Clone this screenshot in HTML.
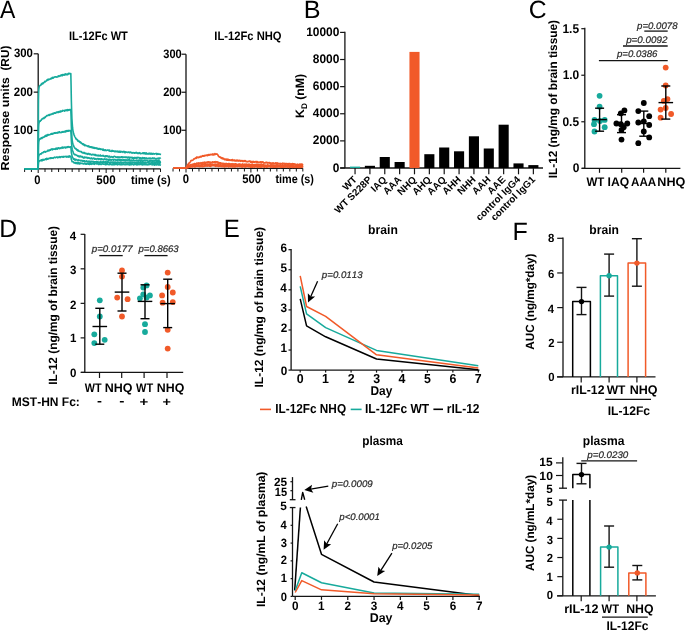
<!DOCTYPE html>
<html><head><meta charset="utf-8"><style>
html,body{margin:0;padding:0;background:#fff;overflow:hidden;}
svg{display:block;will-change:transform;font-family:"Liberation Sans",sans-serif;font-kerning:none;text-rendering:geometricPrecision;}
</style></head><body>
<svg width="685" height="631" viewBox="0 0 685 631">
<rect width="685" height="631" fill="#fff"/>
<text x="0" y="17.8" font-size="25" font-weight="normal" fill="#000" textLength="15.35" lengthAdjust="spacingAndGlyphs">A</text>
<text x="303.68" y="17.8" font-size="25" font-weight="normal" fill="#000" textLength="16.83" lengthAdjust="spacingAndGlyphs">B</text>
<text x="528.76" y="17.8" font-size="25" font-weight="normal" fill="#000" textLength="17.86" lengthAdjust="spacingAndGlyphs">C</text>
<text x="-0.78" y="236.6" font-size="25" font-weight="normal" fill="#000" textLength="17.84" lengthAdjust="spacingAndGlyphs">D</text>
<text x="223.78" y="236.7" font-size="25" font-weight="normal" fill="#000" textLength="16.03" lengthAdjust="spacingAndGlyphs">E</text>
<text x="512.59" y="240" font-size="25" font-weight="normal" fill="#000" textLength="15.33" lengthAdjust="spacingAndGlyphs">F</text>
<line x1="38.2" y1="53.8" x2="38.2" y2="169.4" stroke="#141414" stroke-width="1.3"/>
<line x1="24.61" y1="168.8" x2="160.51" y2="168.8" stroke="#141414" stroke-width="1.3"/>
<line x1="24.61" y1="168.8" x2="24.61" y2="172" stroke="#141414" stroke-width="1"/>
<line x1="31.41" y1="168.8" x2="31.41" y2="172" stroke="#141414" stroke-width="1"/>
<line x1="38.2" y1="168.8" x2="38.2" y2="173" stroke="#141414" stroke-width="1"/>
<line x1="45" y1="168.8" x2="45" y2="172" stroke="#141414" stroke-width="1"/>
<line x1="51.79" y1="168.8" x2="51.79" y2="172" stroke="#141414" stroke-width="1"/>
<line x1="58.59" y1="168.8" x2="58.59" y2="172" stroke="#141414" stroke-width="1"/>
<line x1="65.38" y1="168.8" x2="65.38" y2="172" stroke="#141414" stroke-width="1"/>
<line x1="72.18" y1="168.8" x2="72.18" y2="172" stroke="#141414" stroke-width="1"/>
<line x1="78.97" y1="168.8" x2="78.97" y2="172" stroke="#141414" stroke-width="1"/>
<line x1="85.77" y1="168.8" x2="85.77" y2="172" stroke="#141414" stroke-width="1"/>
<line x1="92.56" y1="168.8" x2="92.56" y2="172" stroke="#141414" stroke-width="1"/>
<line x1="99.35" y1="168.8" x2="99.35" y2="172" stroke="#141414" stroke-width="1"/>
<line x1="106.15" y1="168.8" x2="106.15" y2="173" stroke="#141414" stroke-width="1"/>
<line x1="112.94" y1="168.8" x2="112.94" y2="172" stroke="#141414" stroke-width="1"/>
<line x1="119.74" y1="168.8" x2="119.74" y2="172" stroke="#141414" stroke-width="1"/>
<line x1="126.53" y1="168.8" x2="126.53" y2="172" stroke="#141414" stroke-width="1"/>
<line x1="133.33" y1="168.8" x2="133.33" y2="172" stroke="#141414" stroke-width="1"/>
<line x1="140.12" y1="168.8" x2="140.12" y2="172" stroke="#141414" stroke-width="1"/>
<line x1="146.92" y1="168.8" x2="146.92" y2="172" stroke="#141414" stroke-width="1"/>
<line x1="153.72" y1="168.8" x2="153.72" y2="172" stroke="#141414" stroke-width="1"/>
<line x1="160.51" y1="168.8" x2="160.51" y2="172" stroke="#141414" stroke-width="1"/>
<line x1="33.7" y1="130.47" x2="38.2" y2="130.47" stroke="#141414" stroke-width="1.2"/>
<text x="13.5" y="134.02" font-size="12.32" font-weight="bold" fill="#000" textLength="19.4" lengthAdjust="spacingAndGlyphs">100</text>
<line x1="33.7" y1="92.14" x2="38.2" y2="92.14" stroke="#141414" stroke-width="1.2"/>
<text x="13.8" y="95.69" font-size="12.32" font-weight="bold" fill="#000" textLength="19.1" lengthAdjust="spacingAndGlyphs">200</text>
<line x1="33.7" y1="53.81" x2="38.2" y2="53.81" stroke="#141414" stroke-width="1.2"/>
<text x="13.92" y="57.36" font-size="12.32" font-weight="bold" fill="#000" textLength="18.98" lengthAdjust="spacingAndGlyphs">300</text>
<path d="M24.61 168.7 L24.95 168.7 L25.97 168.7 L26.99 168.7 L28.01 168.7 L29.03 168.7 L30.05 168.7 L31.07 168.7 L32.08 168.7 L33.1 168.7 L34.12 168.7 L35.14 168.7 L36.16 168.7 L37.18 168.7 L38.2 168.7 L38.27 143.18 L38.34 123.93 L38.4 109.04 L38.47 99.78 L38.61 93.18 L38.74 90.12 L39.02 87.67 L39.29 86.57 L39.56 85.78 L39.9 85.73 L40.24 85.23 L40.58 85.27 L40.92 85.02 L41.26 84.04 L41.6 83.67 L41.94 84.36 L42.28 83.38 L42.62 83.07 L42.96 83.71 L43.3 82.82 L43.64 83.01 L43.98 82.33 L44.32 82.28 L44.66 81.45 L45 81.79 L45.33 81.84 L45.67 81.19 L46.01 81.23 L46.35 80.92 L46.69 79.98 L47.03 80.6 L47.37 80.2 L47.71 79.66 L48.05 79.15 L48.39 79.97 L48.73 79.33 L49.07 79.46 L49.41 79.5 L49.75 79.15 L50.09 79.26 L50.43 78.49 L50.77 78.84 L51.11 78.28 L51.45 78.75 L51.79 78.56 L52.13 77.5 L52.47 77.43 L52.81 77.41 L53.15 78.2 L53.49 77.45 L53.83 77.58 L54.17 77.08 L54.51 77.22 L54.85 76.97 L55.19 76.83 L55.53 77.01 L55.87 76.91 L56.21 77.19 L56.55 76.83 L56.89 77.03 L57.23 76.85 L57.57 76.92 L57.91 76.44 L58.25 75.74 L58.59 76.49 L58.92 76.53 L59.26 76.37 L59.6 75.88 L59.94 75.97 L60.28 75.29 L60.62 75.95 L60.96 75.56 L61.3 75.13 L61.64 74.79 L61.98 75.66 L62.32 75.75 L62.66 74.59 L63 75.37 L63.34 74.83 L63.68 74.44 L64.02 74.54 L64.36 75.04 L64.7 75.1 L65.04 74.03 L65.38 74.65 L65.72 73.89 L66.06 74.63 L66.4 74.1 L66.74 74.7 L67.08 74.75 L67.42 74.12 L67.76 74.65 L68.1 73.76 L68.44 73.42 L68.78 73.98 L69.12 73.24 L69.46 73.38 L69.8 73.58 L70.14 73.77 L70.48 73.58 L70.82 73.52 L70.95 79.3 L71.09 85.79 L71.36 100.71 L71.63 110.25 L71.9 118.29 L72.18 122.75 L72.58 127.98 L72.99 130.82 L73.53 132.99 L73.94 134.42 L74.28 135.36 L74.62 136.27 L74.96 136.87 L75.3 137.41 L75.64 138 L75.98 138.86 L76.32 138.78 L76.66 139.11 L77 139.85 L77.34 139.65 L77.68 140.08 L78.02 141.23 L78.36 140.99 L78.7 141.33 L79.04 140.97 L79.38 141.72 L79.72 142.18 L80.06 141.75 L80.4 142.7 L80.74 142.96 L81.08 142.5 L81.42 143.4 L81.76 143.42 L82.1 143.89 L82.44 143.7 L82.78 144.32 L83.11 144.55 L83.45 143.88 L83.79 144.11 L84.13 145.02 L84.47 145.54 L84.81 144.84 L85.15 145.24 L85.49 145.56 L85.83 145.37 L86.17 145.56 L86.51 145.62 L86.85 145.81 L87.19 146.2 L87.53 145.95 L87.87 146.15 L88.21 146.73 L88.55 145.94 L88.89 146.69 L89.23 146.99 L89.57 146.57 L89.91 146.56 L90.25 147.34 L90.59 146.75 L90.93 146.78 L91.27 147.16 L91.61 147.55 L91.95 146.92 L92.29 147.26 L92.63 147.35 L92.97 148.02 L93.31 147.62 L93.65 148.2 L93.99 147.44 L94.33 147.72 L94.67 148.16 L95.01 148.51 L95.35 148.06 L95.69 147.86 L96.03 147.8 L96.37 148.36 L96.7 148.02 L97.04 148.83 L97.38 148.93 L97.72 148.22 L98.06 148.4 L98.4 149.1 L98.74 148.97 L99.08 149.24 L99.42 148.76 L99.76 148.56 L100.1 148.83 L100.44 149.5 L100.78 148.94 L101.12 149.09 L101.46 149.25 L101.8 149.31 L102.14 149.37 L102.48 150.04 L102.82 149.19 L103.16 149.07 L103.5 150.26 L103.84 150.25 L104.18 150.43 L104.52 149.83 L104.86 150.51 L105.2 150.54 L105.54 149.75 L105.88 150.43 L106.22 150.6 L106.56 150.44 L106.9 150.32 L107.24 150.09 L107.58 150.2 L107.92 150.12 L108.26 149.97 L108.6 150.64 L108.94 150.32 L109.28 150.99 L109.62 150.11 L109.96 151.19 L110.29 150.98 L110.63 151.29 L110.97 151.3 L111.31 151.34 L111.65 151 L111.99 150.36 L112.33 151.28 L112.67 150.63 L113.01 150.82 L113.35 151.29 L113.69 151.16 L114.03 151.07 L114.37 151.73 L114.71 151.38 L115.05 151.09 L115.39 151.02 L115.73 151.78 L116.07 151.36 L116.41 151.76 L116.75 151.28 L117.09 151.12 L117.43 151.56 L117.77 151.93 L118.11 151.19 L118.45 151.97 L118.79 152.16 L119.13 152.05 L119.47 152.1 L119.81 151.16 L120.15 151.93 L120.49 152.24 L120.83 151.3 L121.17 151.59 L121.51 151.62 L121.85 151.96 L122.19 151.86 L122.53 151.95 L122.87 152.35 L123.21 151.44 L123.55 151.54 L123.88 151.65 L124.22 151.67 L124.56 151.63 L124.9 152.75 L125.24 152.63 L125.58 151.74 L125.92 152.26 L126.26 152.06 L126.6 152.09 L126.94 152.16 L127.28 152.54 L127.62 152.49 L127.96 152.24 L128.3 152.06 L128.64 152.25 L128.98 152.03 L129.32 152.57 L129.66 152.79 L130 152.4 L130.34 152.07 L130.68 152.21 L131.02 152.46 L131.36 152.76 L131.7 153 L132.04 152.54 L132.38 153.06 L132.72 152.87 L133.06 152.66 L133.4 152.61 L133.74 152.78 L134.08 153.05 L134.42 152.73 L134.76 153.08 L135.1 152.82 L135.44 152.58 L135.78 152.95 L136.12 153.17 L136.46 152.44 L136.8 152.88 L137.14 152.9 L137.47 153.47 L137.81 153.56 L138.15 152.9 L138.49 153.55 L138.83 153.44 L139.17 152.83 L139.51 153.09 L139.85 152.7 L140.19 153.55 L140.53 153.38 L140.87 153.67 L141.21 153.58 L141.55 153.45 L141.89 153.54 L142.23 153.36 L142.57 152.82 L142.91 153.42 L143.25 152.74 L143.59 152.93 L143.93 153.7 L144.27 152.84 L144.61 152.92 L144.95 152.95 L145.29 153.9 L145.63 153.08 L145.97 152.91 L146.31 153.9 L146.65 153.06 L146.99 153.94 L147.33 153.75 L147.67 153.96 L148.01 154.12 L148.35 153.69 L148.69 153.96 L149.03 153.07 L149.37 153.96 L149.71 153.67 L150.05 153.93 L150.39 153.21 L150.73 153.99 L151.06 154.23 L151.4 153.2 L151.74 153.53 L152.08 153.83 L152.42 154.16 L152.76 153.47 L153.1 153.41 L153.44 153.5 L153.78 153.96 L154.12 154.13 L154.46 153.71 L154.8 153.69 L155.14 153.74 L155.48 153.7 L155.82 153.79 L156.16 153.4 L156.5 153.91 L156.84 154.49 L157.18 153.83 L157.52 154.24 L157.86 153.54 L158.2 154.19 L158.54 154.28 L158.88 154.19 L159.22 154.01 L159.56 153.98 L159.9 154.18 L160.24 154.49 L160.51 153.6" fill="none" stroke="#17aa9c" stroke-width="1.6" stroke-linejoin="round"/>
<path d="M24.61 168.7 L24.95 168.7 L25.97 168.7 L26.99 168.7 L28.01 168.7 L29.03 168.7 L30.05 168.7 L31.07 168.7 L32.08 168.7 L33.1 168.7 L34.12 168.7 L35.14 168.7 L36.16 168.7 L37.18 168.7 L38.2 168.7 L38.27 154.14 L38.34 143.32 L38.4 134.96 L38.47 129.76 L38.61 126.09 L38.74 124.33 L39.02 122.7 L39.29 121.9 L39.56 120.98 L39.9 121.38 L40.24 121.3 L40.58 120.58 L40.92 120.22 L41.26 120.25 L41.6 119.32 L41.94 119.14 L42.28 118.79 L42.62 118.99 L42.96 118.4 L43.3 118.06 L43.64 118.37 L43.98 118.45 L44.32 117.43 L44.66 117.7 L45 117.12 L45.33 117.43 L45.67 116.88 L46.01 116.29 L46.35 116.02 L46.69 115.58 L47.03 115.93 L47.37 115.63 L47.71 115.19 L48.05 115.24 L48.39 115.02 L48.73 115.4 L49.07 114.49 L49.41 115.37 L49.75 114.61 L50.09 114.62 L50.43 114.33 L50.77 114.64 L51.11 114.5 L51.45 114.07 L51.79 113.86 L52.13 114.04 L52.47 114.09 L52.81 113.43 L53.15 113.73 L53.49 113.9 L53.83 113.2 L54.17 112.82 L54.51 112.72 L54.85 113.21 L55.19 113.06 L55.53 113.3 L55.87 113.08 L56.21 112.26 L56.55 112.1 L56.89 112.09 L57.23 111.92 L57.57 112.45 L57.91 112.55 L58.25 112.52 L58.59 111.66 L58.92 112.31 L59.26 111.56 L59.6 111.62 L59.94 111.9 L60.28 111.05 L60.62 110.98 L60.96 111.8 L61.3 111.07 L61.64 111.08 L61.98 111.27 L62.32 111.31 L62.66 110.44 L63 110.76 L63.34 110.81 L63.68 110.8 L64.02 110.4 L64.36 110.79 L64.7 111.16 L65.04 110.42 L65.38 110.54 L65.72 109.96 L66.06 110.09 L66.4 110.49 L66.74 109.77 L67.08 110.63 L67.42 110.6 L67.76 109.57 L68.1 110.52 L68.44 109.78 L68.78 110.2 L69.12 110.13 L69.46 109.52 L69.8 109.92 L70.14 109.84 L70.48 109.61 L70.82 109.56 L70.95 113.07 L71.09 117.03 L71.36 126.74 L71.63 132 L71.9 136.88 L72.18 140.25 L72.58 142.62 L72.99 144.23 L73.53 145.43 L73.94 146.69 L74.28 147.05 L74.62 147.95 L74.96 148.31 L75.3 148.53 L75.64 148.38 L75.98 149.23 L76.32 149.48 L76.66 149.2 L77 150.29 L77.34 150.24 L77.68 149.82 L78.02 150.99 L78.36 150.23 L78.7 150.64 L79.04 151.28 L79.38 151.3 L79.72 151.41 L80.06 151.67 L80.4 151.59 L80.74 151.55 L81.08 151.53 L81.42 151.53 L81.76 152.44 L82.1 152.62 L82.44 152.49 L82.78 152.84 L83.11 152.51 L83.45 152.51 L83.79 152.76 L84.13 153.45 L84.47 152.56 L84.81 153.21 L85.15 153 L85.49 153.72 L85.83 153.3 L86.17 153.36 L86.51 153.52 L86.85 153.76 L87.19 154.11 L87.53 153.67 L87.87 154.33 L88.21 153.51 L88.55 153.77 L88.89 153.62 L89.23 153.7 L89.57 154.55 L89.91 154.55 L90.25 153.95 L90.59 154.01 L90.93 154.33 L91.27 154.77 L91.61 154.91 L91.95 154.88 L92.29 154.74 L92.63 154.25 L92.97 154.6 L93.31 154.4 L93.65 154.84 L93.99 154.93 L94.33 154.54 L94.67 154.64 L95.01 155.32 L95.35 154.46 L95.69 155.43 L96.03 155.58 L96.37 155.69 L96.7 155.05 L97.04 155.29 L97.38 155.37 L97.72 155.47 L98.06 155.93 L98.4 155.62 L98.74 155.2 L99.08 155.91 L99.42 155.5 L99.76 155.69 L100.1 155.88 L100.44 155.05 L100.78 156.01 L101.12 155.92 L101.46 155.76 L101.8 155.84 L102.14 155.8 L102.48 155.52 L102.82 155.96 L103.16 155.41 L103.5 156 L103.84 156.22 L104.18 156.01 L104.52 156.19 L104.86 156.7 L105.2 156.65 L105.54 155.78 L105.88 156.6 L106.22 156.43 L106.56 155.78 L106.9 156.18 L107.24 156.06 L107.58 155.9 L107.92 156.49 L108.26 156.98 L108.6 156.28 L108.94 156.96 L109.28 156.78 L109.62 156.13 L109.96 157.03 L110.29 156.74 L110.63 157.16 L110.97 156.93 L111.31 156.98 L111.65 156.53 L111.99 157.11 L112.33 157.28 L112.67 157.22 L113.01 156.74 L113.35 157.14 L113.69 156.84 L114.03 156.41 L114.37 156.36 L114.71 156.42 L115.05 156.59 L115.39 156.56 L115.73 156.99 L116.07 157.25 L116.41 157.08 L116.75 156.96 L117.09 157.25 L117.43 156.86 L117.77 157.07 L118.11 157.44 L118.45 157.04 L118.79 156.79 L119.13 157.67 L119.47 157.48 L119.81 157.07 L120.15 157.1 L120.49 157.31 L120.83 157.4 L121.17 156.98 L121.51 156.73 L121.85 156.99 L122.19 157.7 L122.53 156.95 L122.87 157.35 L123.21 157.05 L123.55 157.08 L123.88 157.05 L124.22 157.35 L124.56 157.08 L124.9 156.93 L125.24 157.05 L125.58 157.13 L125.92 157.53 L126.26 157.03 L126.6 157 L126.94 157.53 L127.28 157.5 L127.62 157.87 L127.96 157.1 L128.3 157.53 L128.64 157.54 L128.98 157.11 L129.32 158.25 L129.66 157.37 L130 157.24 L130.34 157.71 L130.68 157.35 L131.02 157.91 L131.36 157.59 L131.7 157.34 L132.04 157.26 L132.38 158.09 L132.72 157.56 L133.06 158.19 L133.4 157.81 L133.74 158.39 L134.08 157.64 L134.42 157.59 L134.76 157.62 L135.1 158.3 L135.44 158.09 L135.78 157.76 L136.12 157.47 L136.46 158.19 L136.8 158.54 L137.14 158.1 L137.47 157.41 L137.81 157.45 L138.15 157.54 L138.49 157.65 L138.83 157.5 L139.17 157.53 L139.51 158.26 L139.85 158.57 L140.19 157.74 L140.53 158.68 L140.87 158.1 L141.21 158.5 L141.55 158.65 L141.89 158.69 L142.23 157.61 L142.57 157.95 L142.91 158.32 L143.25 158.74 L143.59 157.72 L143.93 157.98 L144.27 158.66 L144.61 157.78 L144.95 158.12 L145.29 158.07 L145.63 158.49 L145.97 158.8 L146.31 157.91 L146.65 158.6 L146.99 158.6 L147.33 158.73 L147.67 158.4 L148.01 158.86 L148.35 158.19 L148.69 158.26 L149.03 158.05 L149.37 158.72 L149.71 158.37 L150.05 158.13 L150.39 158.02 L150.73 158.69 L151.06 158.56 L151.4 158.69 L151.74 158.31 L152.08 158.44 L152.42 158.05 L152.76 158.72 L153.1 157.91 L153.44 158.45 L153.78 158.81 L154.12 158.72 L154.46 158.03 L154.8 158.2 L155.14 158.94 L155.48 158.7 L155.82 158.99 L156.16 158.99 L156.5 158.49 L156.84 159.03 L157.18 158.84 L157.52 158.37 L157.86 158.42 L158.2 158.07 L158.54 158.47 L158.88 159.14 L159.22 158.12 L159.56 158.69 L159.9 158.14 L160.24 158.11 L160.51 158.8" fill="none" stroke="#17aa9c" stroke-width="1.6" stroke-linejoin="round"/>
<path d="M24.61 168.7 L24.95 168.7 L25.97 168.7 L26.99 168.7 L28.01 168.7 L29.03 168.7 L30.05 168.7 L31.07 168.7 L32.08 168.7 L33.1 168.7 L34.12 168.7 L35.14 168.7 L36.16 168.7 L37.18 168.7 L38.2 168.7 L38.27 159.62 L38.34 153.02 L38.4 147.91 L38.47 144.74 L38.61 142.52 L38.74 141.43 L39.02 140.36 L39.29 139.81 L39.56 139.18 L39.9 138.67 L40.24 138.58 L40.58 138.98 L40.92 138.71 L41.26 137.8 L41.6 137.85 L41.94 138.53 L42.28 137.43 L42.62 137.64 L42.96 137.28 L43.3 137.53 L43.64 137.14 L43.98 137.19 L44.32 136.71 L44.66 136.13 L45 135.95 L45.33 135.66 L45.67 136.4 L46.01 135.38 L46.35 135.12 L46.69 136.1 L47.03 135.03 L47.37 135.72 L47.71 134.62 L48.05 134.94 L48.39 134.52 L48.73 135.13 L49.07 134.76 L49.41 134.68 L49.75 134.72 L50.09 134.76 L50.43 134.03 L50.77 134.24 L51.11 133.96 L51.45 133.47 L51.79 134.25 L52.13 133.88 L52.47 134.06 L52.81 133.25 L53.15 133.58 L53.49 133.41 L53.83 133.65 L54.17 132.79 L54.51 133.04 L54.85 133.14 L55.19 132.57 L55.53 133.08 L55.87 133.22 L56.21 132.78 L56.55 132.98 L56.89 132.87 L57.23 132.33 L57.57 132.43 L57.91 133.14 L58.25 132.28 L58.59 132.33 L58.92 131.86 L59.26 131.96 L59.6 131.83 L59.94 132.69 L60.28 132.39 L60.62 132.51 L60.96 132.59 L61.3 132.08 L61.64 132.41 L61.98 131.88 L62.32 131.69 L62.66 132.27 L63 132.16 L63.34 132.17 L63.68 131.56 L64.02 131.85 L64.36 131.36 L64.7 132.02 L65.04 131.88 L65.38 131.08 L65.72 131.8 L66.06 130.85 L66.4 130.7 L66.74 131.41 L67.08 130.85 L67.42 131.07 L67.76 131.17 L68.1 130.41 L68.44 131.21 L68.78 130.61 L69.12 130.75 L69.46 130.61 L69.8 131.04 L70.14 131.01 L70.48 130.67 L70.82 130.64 L70.95 132.81 L71.09 135.25 L71.36 140.76 L71.63 144.18 L71.9 147.07 L72.18 149.13 L72.58 150.41 L72.99 151.6 L73.53 153.38 L73.94 153.8 L74.28 154.46 L74.62 154.75 L74.96 154.87 L75.3 154.49 L75.64 154.43 L75.98 154.79 L76.32 155.14 L76.66 155.37 L77 155.54 L77.34 155.46 L77.68 156.19 L78.02 155.63 L78.36 155.96 L78.7 156.59 L79.04 156.6 L79.38 156.09 L79.72 156.12 L80.06 156.89 L80.4 156.02 L80.74 156.25 L81.08 156.82 L81.42 156.91 L81.76 156.54 L82.1 156.49 L82.44 156.75 L82.78 157.5 L83.11 157.21 L83.45 157.9 L83.79 157.73 L84.13 158.03 L84.47 156.96 L84.81 157.2 L85.15 157.05 L85.49 157.61 L85.83 157.55 L86.17 157.26 L86.51 157.9 L86.85 157.4 L87.19 157.71 L87.53 157.67 L87.87 158.38 L88.21 157.96 L88.55 157.81 L88.89 157.58 L89.23 158.08 L89.57 158.35 L89.91 158.45 L90.25 158.76 L90.59 158.67 L90.93 158.03 L91.27 157.93 L91.61 158.71 L91.95 158.77 L92.29 158.47 L92.63 158.88 L92.97 158.57 L93.31 158.28 L93.65 158.17 L93.99 158.01 L94.33 158.79 L94.67 159.12 L95.01 159.16 L95.35 158.66 L95.69 158.92 L96.03 159.26 L96.37 159.15 L96.7 158.92 L97.04 158.72 L97.38 158.87 L97.72 158.48 L98.06 158.52 L98.4 159.15 L98.74 159.55 L99.08 159.04 L99.42 158.9 L99.76 158.86 L100.1 159 L100.44 159.45 L100.78 159.05 L101.12 159.69 L101.46 158.75 L101.8 158.96 L102.14 159.23 L102.48 159.13 L102.82 159.68 L103.16 159.67 L103.5 159.82 L103.84 159.46 L104.18 158.79 L104.52 159.46 L104.86 159.45 L105.2 159.4 L105.54 159.17 L105.88 159.71 L106.22 159.97 L106.56 159.02 L106.9 159.72 L107.24 159.38 L107.58 159.57 L107.92 160.05 L108.26 160.14 L108.6 159.78 L108.94 159.26 L109.28 160.14 L109.62 159.27 L109.96 159.53 L110.29 160.08 L110.63 159.48 L110.97 159.44 L111.31 160.27 L111.65 160.28 L111.99 159.54 L112.33 159.65 L112.67 159.53 L113.01 159.36 L113.35 159.52 L113.69 160.41 L114.03 159.34 L114.37 159.54 L114.71 159.51 L115.05 159.38 L115.39 159.93 L115.73 160.21 L116.07 160.33 L116.41 160.1 L116.75 160.33 L117.09 159.37 L117.43 159.72 L117.77 160.54 L118.11 159.49 L118.45 159.74 L118.79 160.01 L119.13 159.76 L119.47 160.11 L119.81 159.52 L120.15 159.76 L120.49 160.64 L120.83 159.67 L121.17 160.6 L121.51 159.73 L121.85 160.72 L122.19 160.35 L122.53 160.33 L122.87 159.73 L123.21 159.64 L123.55 160.5 L123.88 159.81 L124.22 159.83 L124.56 160.6 L124.9 160.68 L125.24 159.69 L125.58 160.8 L125.92 160.3 L126.26 160.12 L126.6 159.8 L126.94 160.15 L127.28 160.88 L127.62 160.04 L127.96 159.87 L128.3 159.9 L128.64 159.88 L128.98 160.16 L129.32 160.85 L129.66 159.85 L130 159.99 L130.34 160.9 L130.68 160.98 L131.02 160.97 L131.36 160.09 L131.7 160.23 L132.04 160.96 L132.38 160.4 L132.72 160.67 L133.06 160.21 L133.4 159.87 L133.74 160.27 L134.08 160.76 L134.42 160.81 L134.76 160.56 L135.1 160.44 L135.44 160.54 L135.78 160.43 L136.12 160.55 L136.46 160.92 L136.8 160.16 L137.14 160.64 L137.47 161.06 L137.81 160.96 L138.15 160.17 L138.49 161.12 L138.83 160.98 L139.17 160.18 L139.51 160.3 L139.85 160.23 L140.19 160.06 L140.53 161.18 L140.87 160.5 L141.21 161.07 L141.55 160.16 L141.89 160.05 L142.23 161.08 L142.57 161 L142.91 161.24 L143.25 160.88 L143.59 160.7 L143.93 160.99 L144.27 160.19 L144.61 160.74 L144.95 160.62 L145.29 160.28 L145.63 160.83 L145.97 160.5 L146.31 160.73 L146.65 160.57 L146.99 160.51 L147.33 160.57 L147.67 160.87 L148.01 161.33 L148.35 161.28 L148.69 161.2 L149.03 161.17 L149.37 160.52 L149.71 161.35 L150.05 160.51 L150.39 160.34 L150.73 160.8 L151.06 161.08 L151.4 160.62 L151.74 160.99 L152.08 160.56 L152.42 161.38 L152.76 160.77 L153.1 160.81 L153.44 160.87 L153.78 161.29 L154.12 161.43 L154.46 160.89 L154.8 160.79 L155.14 161 L155.48 160.35 L155.82 160.78 L156.16 161.29 L156.5 161.21 L156.84 160.35 L157.18 161.31 L157.52 160.75 L157.86 161.47 L158.2 160.74 L158.54 160.56 L158.88 160.96 L159.22 161.37 L159.56 160.83 L159.9 161.35 L160.24 161.17 L160.51 160.75" fill="none" stroke="#17aa9c" stroke-width="1.6" stroke-linejoin="round"/>
<path d="M24.61 168.7 L24.95 168.7 L25.97 168.7 L26.99 168.7 L28.01 168.7 L29.03 168.7 L30.05 168.7 L31.07 168.7 L32.08 168.7 L33.1 168.7 L34.12 168.7 L35.14 168.7 L36.16 168.7 L37.18 168.7 L38.2 168.7 L38.27 164.27 L38.34 161.24 L38.4 158.9 L38.47 157.45 L38.61 156.45 L38.74 155.93 L39.02 155.25 L39.29 154.85 L39.56 154.35 L39.9 154.35 L40.24 154.02 L40.58 153.82 L40.92 153.97 L41.26 154.04 L41.6 153.5 L41.94 152.79 L42.28 152.7 L42.62 152.71 L42.96 152.83 L43.3 152.1 L43.64 151.88 L43.98 152.01 L44.32 151.81 L44.66 151.36 L45 151.82 L45.33 152.13 L45.67 151.53 L46.01 151.63 L46.35 151.6 L46.69 151.48 L47.03 151.44 L47.37 150.75 L47.71 150.92 L48.05 150.12 L48.39 150.92 L48.73 150.22 L49.07 150.23 L49.41 150.63 L49.75 149.82 L50.09 149.61 L50.43 150.29 L50.77 149.93 L51.11 149.24 L51.45 149.09 L51.79 149.4 L52.13 148.91 L52.47 149.83 L52.81 148.98 L53.15 149.02 L53.49 149.09 L53.83 149.17 L54.17 149.01 L54.51 149.18 L54.85 149.15 L55.19 148.82 L55.53 148.35 L55.87 149.35 L56.21 148.94 L56.55 148.15 L56.89 148.52 L57.23 148.84 L57.57 149.07 L57.91 147.9 L58.25 147.78 L58.59 148.29 L58.92 148.16 L59.26 148.68 L59.6 148.54 L59.94 147.9 L60.28 147.95 L60.62 148.1 L60.96 148.41 L61.3 147.54 L61.64 147.72 L61.98 147.31 L62.32 147.92 L62.66 147.14 L63 148.18 L63.34 147.64 L63.68 147.66 L64.02 147.02 L64.36 147.16 L64.7 147.4 L65.04 147.82 L65.38 147.39 L65.72 147.05 L66.06 147.84 L66.4 147.41 L66.74 147.21 L67.08 146.78 L67.42 146.86 L67.76 147.54 L68.1 146.58 L68.44 147.02 L68.78 147.09 L69.12 146.73 L69.46 147.2 L69.8 147.33 L70.14 147.23 L70.48 146.77 L70.82 146.74 L70.95 147.9 L71.09 149.22 L71.36 152.61 L71.63 153.92 L71.9 155.18 L72.18 156.66 L72.58 157.42 L72.99 157.87 L73.53 159.25 L73.94 158.73 L74.28 159.63 L74.62 159.92 L74.96 159.08 L75.3 160.15 L75.64 159.63 L75.98 159.5 L76.32 159.56 L76.66 159.47 L77 160.1 L77.34 160.04 L77.68 160.67 L78.02 160.72 L78.36 159.85 L78.7 160.33 L79.04 160.37 L79.38 160.17 L79.72 160.31 L80.06 160.38 L80.4 160.94 L80.74 160.56 L81.08 160.33 L81.42 160.51 L81.76 160.82 L82.1 161.01 L82.44 160.67 L82.78 161.25 L83.11 160.71 L83.45 161.3 L83.79 161.26 L84.13 160.77 L84.47 161.5 L84.81 161.1 L85.15 161.31 L85.49 161.41 L85.83 161.47 L86.17 161.28 L86.51 160.84 L86.85 161.74 L87.19 161.85 L87.53 161.43 L87.87 161.56 L88.21 161.21 L88.55 161.98 L88.89 161.75 L89.23 161.21 L89.57 161.95 L89.91 162.17 L90.25 161.42 L90.59 162.21 L90.93 161.62 L91.27 161.27 L91.61 161.93 L91.95 161.49 L92.29 161.98 L92.63 161.82 L92.97 161.26 L93.31 161.78 L93.65 162.18 L93.99 161.75 L94.33 161.84 L94.67 162.24 L95.01 161.75 L95.35 161.82 L95.69 161.94 L96.03 162.25 L96.37 161.52 L96.7 161.4 L97.04 162.21 L97.38 161.98 L97.72 161.69 L98.06 162.41 L98.4 162.42 L98.74 162.02 L99.08 162.57 L99.42 162.4 L99.76 162.31 L100.1 161.78 L100.44 161.45 L100.78 162.27 L101.12 162.35 L101.46 161.9 L101.8 162.07 L102.14 162.19 L102.48 161.82 L102.82 162.37 L103.16 162.22 L103.5 162.02 L103.84 161.7 L104.18 162.25 L104.52 161.98 L104.86 162.48 L105.2 161.82 L105.54 162.1 L105.88 161.88 L106.22 162.14 L106.56 162.35 L106.9 161.8 L107.24 161.75 L107.58 162.27 L107.92 161.94 L108.26 162.32 L108.6 161.92 L108.94 161.85 L109.28 162.38 L109.62 162.85 L109.96 162.8 L110.29 162.38 L110.63 162.25 L110.97 161.86 L111.31 162.12 L111.65 162.17 L111.99 162.93 L112.33 161.95 L112.67 162.96 L113.01 162.4 L113.35 162.35 L113.69 162.16 L114.03 163 L114.37 162.08 L114.71 162.55 L115.05 162.48 L115.39 162.12 L115.73 162.15 L116.07 163.08 L116.41 162.85 L116.75 162.79 L117.09 163 L117.43 162.04 L117.77 162.77 L118.11 162.83 L118.45 162.21 L118.79 162.5 L119.13 163.12 L119.47 162.35 L119.81 162.88 L120.15 162.17 L120.49 162.78 L120.83 162.31 L121.17 162.6 L121.51 162.44 L121.85 163.05 L122.19 162.9 L122.53 162.62 L122.87 162.84 L123.21 162.54 L123.55 163 L123.88 162.35 L124.22 162.7 L124.56 162.75 L124.9 162.52 L125.24 162.11 L125.58 162.27 L125.92 162.84 L126.26 162.33 L126.6 162.99 L126.94 162.69 L127.28 163.23 L127.62 163.11 L127.96 162.97 L128.3 162.55 L128.64 162.16 L128.98 162.78 L129.32 163.01 L129.66 163.23 L130 162.37 L130.34 162.32 L130.68 163.31 L131.02 163.03 L131.36 162.73 L131.7 163.04 L132.04 162.33 L132.38 162.81 L132.72 162.97 L133.06 162.89 L133.4 162.37 L133.74 162.34 L134.08 162.93 L134.42 163.25 L134.76 162.35 L135.1 162.2 L135.44 162.3 L135.78 163.14 L136.12 162.67 L136.46 162.76 L136.8 163.41 L137.14 162.95 L137.47 162.54 L137.81 163.07 L138.15 162.23 L138.49 162.57 L138.83 163.08 L139.17 162.45 L139.51 162.29 L139.85 162.87 L140.19 162.65 L140.53 163.42 L140.87 162.38 L141.21 163.23 L141.55 162.74 L141.89 163.24 L142.23 162.81 L142.57 163.08 L142.91 162.68 L143.25 162.56 L143.59 162.83 L143.93 163.26 L144.27 162.71 L144.61 162.58 L144.95 162.8 L145.29 162.42 L145.63 162.69 L145.97 163 L146.31 162.97 L146.65 163.04 L146.99 162.67 L147.33 162.36 L147.67 162.36 L148.01 162.74 L148.35 162.57 L148.69 163.02 L149.03 162.66 L149.37 163.26 L149.71 163.07 L150.05 163.15 L150.39 163.24 L150.73 162.99 L151.06 162.88 L151.4 162.74 L151.74 162.44 L152.08 163.32 L152.42 162.97 L152.76 162.5 L153.1 163.49 L153.44 163.08 L153.78 163.13 L154.12 162.91 L154.46 162.54 L154.8 163.59 L155.14 162.6 L155.48 162.84 L155.82 163.6 L156.16 162.55 L156.5 163 L156.84 162.98 L157.18 162.7 L157.52 163.52 L157.86 162.91 L158.2 162.43 L158.54 162.98 L158.88 162.42 L159.22 163.27 L159.56 163.46 L159.9 163.51 L160.24 162.48 L160.51 163.24" fill="none" stroke="#17aa9c" stroke-width="1.6" stroke-linejoin="round"/>
<path d="M24.61 168.7 L24.95 168.7 L25.97 168.7 L26.99 168.7 L28.01 168.7 L29.03 168.7 L30.05 168.7 L31.07 168.7 L32.08 168.7 L33.1 168.7 L34.12 168.7 L35.14 168.7 L36.16 168.7 L37.18 168.7 L38.2 168.7 L38.27 166.17 L38.34 164.62 L38.4 163.41 L38.47 162.66 L38.61 162.15 L38.74 161.88 L39.02 161.49 L39.29 161.25 L39.56 160.87 L39.9 160.92 L40.24 160.59 L40.58 160.49 L40.92 160.17 L41.26 160.64 L41.6 159.88 L41.94 160.82 L42.28 159.61 L42.62 160.61 L42.96 159.58 L43.3 159.35 L43.64 160.05 L43.98 159.7 L44.32 159.89 L44.66 159.49 L45 159.54 L45.33 158.8 L45.67 159.42 L46.01 159.14 L46.35 159.59 L46.69 158.37 L47.03 158.36 L47.37 159.01 L47.71 159.24 L48.05 158.56 L48.39 158.84 L48.73 158.6 L49.07 158.33 L49.41 158.36 L49.75 158.47 L50.09 157.73 L50.43 158.01 L50.77 158.48 L51.11 157.85 L51.45 158.06 L51.79 157.76 L52.13 157.83 L52.47 158.14 L52.81 158.21 L53.15 158.42 L53.49 157.81 L53.83 157.44 L54.17 157.56 L54.51 157.18 L54.85 157.36 L55.19 157.74 L55.53 157.73 L55.87 157.25 L56.21 157.14 L56.55 157 L56.89 157.06 L57.23 157.42 L57.57 157.09 L57.91 157.8 L58.25 157.39 L58.59 157.09 L58.92 157.16 L59.26 156.66 L59.6 157.46 L59.94 157.45 L60.28 156.95 L60.62 157.36 L60.96 156.78 L61.3 156.69 L61.64 156.67 L61.98 156.6 L62.32 157.06 L62.66 157.08 L63 157.15 L63.34 156.38 L63.68 157.14 L64.02 156.77 L64.36 156.62 L64.7 156.75 L65.04 156.64 L65.38 156.33 L65.72 156.54 L66.06 156.81 L66.4 156.87 L66.74 157.09 L67.08 156.2 L67.42 157.01 L67.76 156.88 L68.1 156.75 L68.44 157.04 L68.78 156.01 L69.12 156.76 L69.46 156.88 L69.8 155.93 L70.14 156.47 L70.48 156.34 L70.82 156.32 L70.95 156.91 L71.09 157.57 L71.36 159.67 L71.63 159.87 L71.9 161.26 L72.18 161.84 L72.58 161.73 L72.99 161.68 L73.53 162.05 L73.94 162.92 L74.28 162.52 L74.62 162.47 L74.96 162.69 L75.3 163.33 L75.64 162.58 L75.98 162.34 L76.32 163.51 L76.66 162.79 L77 162.91 L77.34 163.66 L77.68 162.86 L78.02 162.66 L78.36 163.66 L78.7 162.91 L79.04 162.92 L79.38 163.8 L79.72 162.98 L80.06 163.81 L80.4 163.15 L80.74 163.14 L81.08 163.06 L81.42 163.47 L81.76 163.52 L82.1 163.34 L82.44 163.5 L82.78 163.26 L83.11 163.93 L83.45 164.07 L83.79 163.87 L84.13 163.97 L84.47 163.08 L84.81 163.32 L85.15 163.28 L85.49 163.23 L85.83 164.22 L86.17 164.16 L86.51 164.18 L86.85 163.77 L87.19 163.25 L87.53 163.64 L87.87 163.2 L88.21 164.23 L88.55 163.47 L88.89 163.51 L89.23 164.31 L89.57 163.43 L89.91 164.3 L90.25 163.58 L90.59 164.01 L90.93 163.35 L91.27 164.31 L91.61 163.72 L91.95 163.66 L92.29 164.04 L92.63 163.97 L92.97 163.57 L93.31 163.43 L93.65 163.97 L93.99 163.32 L94.33 164.34 L94.67 163.72 L95.01 163.52 L95.35 163.71 L95.69 163.46 L96.03 163.71 L96.37 163.99 L96.7 163.84 L97.04 163.75 L97.38 163.71 L97.72 163.95 L98.06 164.31 L98.4 163.91 L98.74 164.31 L99.08 163.98 L99.42 163.55 L99.76 163.61 L100.1 164.43 L100.44 164 L100.78 163.89 L101.12 164.06 L101.46 164.46 L101.8 163.9 L102.14 163.89 L102.48 163.9 L102.82 163.48 L103.16 164.13 L103.5 164.06 L103.84 164.08 L104.18 164.04 L104.52 164.07 L104.86 164.37 L105.2 163.74 L105.54 164.7 L105.88 163.66 L106.22 164.57 L106.56 163.75 L106.9 164.5 L107.24 163.86 L107.58 163.65 L107.92 164.2 L108.26 164.57 L108.6 164.58 L108.94 164.62 L109.28 164.75 L109.62 163.64 L109.96 164.04 L110.29 163.71 L110.63 164.5 L110.97 164.14 L111.31 164.49 L111.65 164.56 L111.99 164.81 L112.33 164.42 L112.67 164.67 L113.01 164.28 L113.35 163.72 L113.69 164.7 L114.03 163.74 L114.37 163.74 L114.71 164.63 L115.05 163.98 L115.39 164.44 L115.73 163.68 L116.07 163.9 L116.41 164.51 L116.75 163.7 L117.09 164.28 L117.43 164.79 L117.77 163.93 L118.11 164.52 L118.45 164.57 L118.79 164.42 L119.13 164.6 L119.47 164.52 L119.81 163.71 L120.15 163.92 L120.49 164.34 L120.83 164.86 L121.17 163.96 L121.51 164.41 L121.85 163.86 L122.19 164.73 L122.53 164.25 L122.87 164.34 L123.21 164.52 L123.55 163.89 L123.88 164.6 L124.22 164.69 L124.56 164.76 L124.9 164.07 L125.24 164.02 L125.58 163.94 L125.92 164.82 L126.26 164.27 L126.6 164.21 L126.94 164.37 L127.28 164.59 L127.62 164.14 L127.96 164.16 L128.3 164.68 L128.64 164.69 L128.98 164.12 L129.32 163.85 L129.66 164.88 L130 164.65 L130.34 164.49 L130.68 164.26 L131.02 164.93 L131.36 164.3 L131.7 164.04 L132.04 163.9 L132.38 164.21 L132.72 164.51 L133.06 164.23 L133.4 164.93 L133.74 164.57 L134.08 164.35 L134.42 164.59 L134.76 164.52 L135.1 164.54 L135.44 164.4 L135.78 164.44 L136.12 164.4 L136.46 164.81 L136.8 164.04 L137.14 164.76 L137.47 164.18 L137.81 164.84 L138.15 163.91 L138.49 164.41 L138.83 164.36 L139.17 164.68 L139.51 164.07 L139.85 164.15 L140.19 163.99 L140.53 164.51 L140.87 164.53 L141.21 163.84 L141.55 164.06 L141.89 164.08 L142.23 164.99 L142.57 164.39 L142.91 164.53 L143.25 164.2 L143.59 164.64 L143.93 164.83 L144.27 164.66 L144.61 163.86 L144.95 164.39 L145.29 164.45 L145.63 163.92 L145.97 164.81 L146.31 164.25 L146.65 164.22 L146.99 164.62 L147.33 164.57 L147.67 164.47 L148.01 164.91 L148.35 164.5 L148.69 164.29 L149.03 163.96 L149.37 164.54 L149.71 164.32 L150.05 164.53 L150.39 164.3 L150.73 163.9 L151.06 163.93 L151.4 164.08 L151.74 164 L152.08 164.91 L152.42 164.59 L152.76 164.18 L153.1 164.75 L153.44 164.66 L153.78 163.97 L154.12 164.8 L154.46 164.18 L154.8 165.1 L155.14 164.07 L155.48 164.25 L155.82 164.21 L156.16 164.94 L156.5 164.89 L156.84 164.61 L157.18 164.09 L157.52 164.43 L157.86 164.76 L158.2 163.98 L158.54 165.02 L158.88 164.93 L159.22 165.04 L159.56 164.76 L159.9 164.66 L160.24 165.09 L160.51 164.24" fill="none" stroke="#17aa9c" stroke-width="1.6" stroke-linejoin="round"/>
<text x="68.98" y="39.6" font-size="12.21" font-weight="bold" fill="#000" textLength="58.81" lengthAdjust="spacingAndGlyphs">IL-12Fc WT</text>
<text x="34.25" y="183.6" font-size="12.43" font-weight="bold" fill="#000" textLength="6.21" lengthAdjust="spacingAndGlyphs">0</text>
<text x="96.35" y="183.6" font-size="12.43" font-weight="bold" fill="#000" textLength="19.25" lengthAdjust="spacingAndGlyphs">500</text>
<text x="131.09" y="183.6" font-size="12.1" font-weight="bold" fill="#000" textLength="39.53" lengthAdjust="spacingAndGlyphs">time (s)</text>
<text x="0" y="0" transform="translate(9.44 170.62) rotate(-90)" font-size="11.63" font-weight="bold" fill="#000" textLength="93.43" lengthAdjust="spacingAndGlyphs">Response units</text>
<text x="0" y="0" transform="translate(9.44 70.59) rotate(-90)" font-size="11.63" font-weight="bold" fill="#000" textLength="24.99" lengthAdjust="spacingAndGlyphs">(RU)</text>
<line x1="186" y1="54.2" x2="186" y2="168.9" stroke="#141414" stroke-width="1.3"/>
<line x1="173.02" y1="168.3" x2="302.82" y2="168.3" stroke="#141414" stroke-width="1.3"/>
<line x1="173.02" y1="168.3" x2="173.02" y2="171.5" stroke="#141414" stroke-width="1"/>
<line x1="179.51" y1="168.3" x2="179.51" y2="171.5" stroke="#141414" stroke-width="1"/>
<line x1="186" y1="168.3" x2="186" y2="172.5" stroke="#141414" stroke-width="1"/>
<line x1="192.49" y1="168.3" x2="192.49" y2="171.5" stroke="#141414" stroke-width="1"/>
<line x1="198.98" y1="168.3" x2="198.98" y2="171.5" stroke="#141414" stroke-width="1"/>
<line x1="205.47" y1="168.3" x2="205.47" y2="171.5" stroke="#141414" stroke-width="1"/>
<line x1="211.96" y1="168.3" x2="211.96" y2="171.5" stroke="#141414" stroke-width="1"/>
<line x1="218.45" y1="168.3" x2="218.45" y2="171.5" stroke="#141414" stroke-width="1"/>
<line x1="224.94" y1="168.3" x2="224.94" y2="171.5" stroke="#141414" stroke-width="1"/>
<line x1="231.43" y1="168.3" x2="231.43" y2="171.5" stroke="#141414" stroke-width="1"/>
<line x1="237.92" y1="168.3" x2="237.92" y2="171.5" stroke="#141414" stroke-width="1"/>
<line x1="244.41" y1="168.3" x2="244.41" y2="171.5" stroke="#141414" stroke-width="1"/>
<line x1="250.9" y1="168.3" x2="250.9" y2="172.5" stroke="#141414" stroke-width="1"/>
<line x1="257.39" y1="168.3" x2="257.39" y2="171.5" stroke="#141414" stroke-width="1"/>
<line x1="263.88" y1="168.3" x2="263.88" y2="171.5" stroke="#141414" stroke-width="1"/>
<line x1="270.37" y1="168.3" x2="270.37" y2="171.5" stroke="#141414" stroke-width="1"/>
<line x1="276.86" y1="168.3" x2="276.86" y2="171.5" stroke="#141414" stroke-width="1"/>
<line x1="283.35" y1="168.3" x2="283.35" y2="171.5" stroke="#141414" stroke-width="1"/>
<line x1="289.84" y1="168.3" x2="289.84" y2="171.5" stroke="#141414" stroke-width="1"/>
<line x1="296.33" y1="168.3" x2="296.33" y2="171.5" stroke="#141414" stroke-width="1"/>
<line x1="302.82" y1="168.3" x2="302.82" y2="171.5" stroke="#141414" stroke-width="1"/>
<line x1="181.5" y1="130.27" x2="186" y2="130.27" stroke="#141414" stroke-width="1.2"/>
<text x="162.93" y="133.82" font-size="12.32" font-weight="bold" fill="#000" textLength="18.76" lengthAdjust="spacingAndGlyphs">100</text>
<line x1="181.5" y1="92.24" x2="186" y2="92.24" stroke="#141414" stroke-width="1.2"/>
<text x="163.21" y="95.79" font-size="12.32" font-weight="bold" fill="#000" textLength="18.47" lengthAdjust="spacingAndGlyphs">200</text>
<line x1="181.5" y1="54.21" x2="186" y2="54.21" stroke="#141414" stroke-width="1.2"/>
<text x="163.32" y="57.76" font-size="12.32" font-weight="bold" fill="#000" textLength="18.35" lengthAdjust="spacingAndGlyphs">300</text>
<path d="M173.02 168.2 L173.34 168.2 L174.32 168.2 L175.29 168.2 L176.26 168.2 L177.24 168.2 L178.21 168.2 L179.19 168.2 L180.16 168.2 L181.13 168.2 L182.11 168.2 L183.08 168.2 L184.05 168.2 L185.03 168.2 L186 168.2 L186.06 167.59 L186.13 167.49 L186.19 167.38 L186.26 167.27 L186.39 167.06 L186.52 166.85 L186.78 166.43 L187.04 166.03 L187.3 165.41 L187.62 164.72 L187.95 164.31 L188.27 164.57 L188.6 163.26 L188.92 163.58 L189.25 162.73 L189.57 162.9 L189.89 162.38 L190.22 161.95 L190.54 161.84 L190.87 160.59 L191.19 160.58 L191.52 160.44 L191.84 160.26 L192.17 160.31 L192.49 160.33 L192.81 159.94 L193.14 159.95 L193.46 159.47 L193.79 158.88 L194.11 158.88 L194.44 159 L194.76 158.92 L195.09 158.23 L195.41 158.08 L195.74 158.25 L196.06 157.66 L196.38 158.32 L196.71 157.14 L197.03 157.81 L197.36 157.51 L197.68 157.05 L198.01 157.4 L198.33 157.19 L198.66 157.68 L198.98 157.49 L199.3 157.05 L199.63 157.3 L199.95 157.23 L200.28 156.28 L200.6 156.98 L200.93 156.9 L201.25 157.01 L201.58 156.65 L201.9 156.12 L202.22 155.82 L202.55 156.27 L202.87 155.66 L203.2 156.24 L203.52 155.94 L203.85 156.17 L204.17 155.53 L204.5 155.39 L204.82 156.04 L205.15 155.68 L205.47 155.28 L205.79 155.43 L206.12 155.22 L206.44 155.41 L206.77 155.2 L207.09 154.86 L207.42 155.64 L207.74 155.48 L208.07 155.28 L208.39 154.65 L208.72 154.51 L209.04 155.11 L209.36 155.17 L209.69 154.92 L210.01 154.35 L210.34 154.92 L210.66 154.64 L210.99 154.42 L211.31 154.63 L211.64 154.43 L211.96 154.63 L212.28 154.71 L212.61 154.95 L212.93 153.87 L213.26 154.39 L213.58 154.81 L213.91 154.43 L214.23 154.31 L214.56 154.6 L214.88 153.59 L215.2 154.48 L215.53 154.25 L215.85 154.18 L216.18 153.83 L216.5 154.18 L216.83 154.02 L217.15 154.01 L217.28 154.23 L217.41 154.46 L217.67 154.44 L217.93 155.31 L218.19 155.34 L218.45 156.44 L218.84 156.65 L219.23 156.57 L219.75 157.29 L220.14 157.09 L220.46 157.45 L220.79 157.19 L221.11 158.2 L221.44 158.26 L221.76 158.42 L222.08 157.77 L222.41 158.81 L222.73 158 L223.06 158.8 L223.38 158.85 L223.71 158.46 L224.03 159 L224.36 159.66 L224.68 159.43 L225 159.12 L225.33 159.78 L225.65 159.29 L225.98 159.99 L226.3 159.44 L226.63 159.1 L226.95 160.21 L227.28 159.17 L227.6 159.43 L227.93 160.08 L228.25 159.33 L228.57 159.88 L228.9 160.29 L229.22 159.99 L229.55 159.73 L229.87 160.26 L230.2 160.37 L230.52 160.1 L230.85 160.19 L231.17 159.85 L231.49 159.99 L231.82 160.72 L232.14 160.73 L232.47 159.59 L232.79 159.86 L233.12 159.92 L233.44 160.63 L233.77 159.95 L234.09 159.95 L234.42 160.69 L234.74 160 L235.06 161 L235.39 160.4 L235.71 160.96 L236.04 160.9 L236.36 160.19 L236.69 160.91 L237.01 160.49 L237.34 160.29 L237.66 160.1 L237.98 160.92 L238.31 160.78 L238.63 160.49 L238.96 161.15 L239.28 160.42 L239.61 160.74 L239.93 160.34 L240.26 160.68 L240.58 161.34 L240.91 160.91 L241.23 160.52 L241.55 160.64 L241.88 161.16 L242.2 160.74 L242.53 161.5 L242.85 160.53 L243.18 161.52 L243.5 161.25 L243.83 161.52 L244.15 160.98 L244.47 160.66 L244.8 160.81 L245.12 161.38 L245.45 160.68 L245.77 160.8 L246.1 161.63 L246.42 161.77 L246.75 161.77 L247.07 161.77 L247.4 161.46 L247.72 161.86 L248.04 161.67 L248.37 161.53 L248.69 161.4 L249.02 160.94 L249.34 161.04 L249.67 161.25 L249.99 161.53 L250.32 161.15 L250.64 162.19 L250.96 161.74 L251.29 161.96 L251.61 162.17 L251.94 161.39 L252.26 162.21 L252.59 162.32 L252.91 161.51 L253.24 161.36 L253.56 162.2 L253.89 162.33 L254.21 162.24 L254.53 161.8 L254.86 162.05 L255.18 161.49 L255.51 161.66 L255.83 161.9 L256.16 162.31 L256.48 161.55 L256.81 162.58 L257.13 161.53 L257.45 162.68 L257.78 161.82 L258.1 162.54 L258.43 162.56 L258.75 162.75 L259.08 162.19 L259.4 162.49 L259.73 162.02 L260.05 162.69 L260.38 161.84 L260.7 162.8 L261.02 162.47 L261.35 161.85 L261.67 162.93 L262 162.2 L262.32 161.93 L262.65 162.18 L262.97 161.92 L263.3 162.25 L263.62 162.78 L263.94 163.14 L264.27 162.73 L264.59 163.02 L264.92 163 L265.24 162.9 L265.57 162.52 L265.89 162.38 L266.22 162.29 L266.54 162.78 L266.87 162.39 L267.19 163.05 L267.51 162.57 L267.84 162.9 L268.16 162.88 L268.49 163 L268.81 162.45 L269.14 162.59 L269.46 163.13 L269.79 162.58 L270.11 163.15 L270.43 163.53 L270.76 162.85 L271.08 163.56 L271.41 163.16 L271.73 163.58 L272.06 163.1 L272.38 163.39 L272.71 163.32 L273.03 162.76 L273.36 163.17 L273.68 163.26 L274 163.14 L274.33 163.39 L274.65 163.71 L274.98 163.59 L275.3 163.63 L275.63 162.85 L275.95 163.54 L276.28 163.47 L276.6 163.86 L276.92 162.75 L277.25 162.98 L277.57 163.96 L277.9 163.25 L278.22 163.67 L278.55 163.55 L278.87 163.34 L279.2 163.41 L279.52 163.57 L279.85 164.1 L280.17 163.57 L280.49 163.9 L280.82 163.33 L281.14 163.84 L281.47 163.73 L281.79 163.92 L282.12 164.1 L282.44 163.15 L282.77 164.24 L283.09 163.83 L283.41 163.42 L283.74 163.69 L284.06 163.26 L284.39 163.44 L284.71 164.19 L285.04 164.05 L285.36 164.26 L285.69 163.43 L286.01 163.38 L286.34 163.72 L286.66 163.88 L286.98 164.15 L287.31 163.68 L287.63 164.22 L287.96 164.05 L288.28 163.72 L288.61 164.33 L288.93 163.49 L289.26 164.13 L289.58 163.66 L289.9 163.5 L290.23 164.04 L290.55 164.11 L290.88 164.24 L291.2 163.97 L291.53 164.65 L291.85 164.49 L292.18 163.75 L292.5 163.59 L292.83 164.75 L293.15 164.11 L293.47 163.76 L293.8 163.86 L294.12 164.5 L294.45 163.89 L294.77 164.14 L295.1 164.52 L295.42 164.15 L295.75 164.52 L296.07 164.89 L296.39 164.72 L296.72 164.54 L297.04 164.55 L297.37 164.19 L297.69 164.6 L298.02 164.62 L298.34 164.56 L298.67 164.46 L298.99 164.79 L299.32 164.15 L299.64 164.77 L299.96 165.11 L300.29 163.99 L300.61 164.26 L300.94 165.16 L301.26 164.09 L301.59 164.99 L301.91 164.72 L302.24 164.12 L302.56 164.8 L302.82 164.07" fill="none" stroke="#f15a29" stroke-width="1.6" stroke-linejoin="round"/>
<path d="M173.02 168.2 L173.34 168.2 L174.32 168.2 L175.29 168.2 L176.26 168.2 L177.24 168.2 L178.21 168.2 L179.19 168.2 L180.16 168.2 L181.13 168.2 L182.11 168.2 L183.08 168.2 L184.05 168.2 L185.03 168.2 L186 168.2 L186.06 167.66 L186.13 167.61 L186.19 167.57 L186.26 167.52 L186.39 167.43 L186.52 167.35 L186.78 167.17 L187.04 167.01 L187.3 167.26 L187.62 166.41 L187.95 166.95 L188.27 166.72 L188.6 165.62 L188.92 165.75 L189.25 165.26 L189.57 165.82 L189.89 164.87 L190.22 164.7 L190.54 164.62 L190.87 165.4 L191.19 164.55 L191.52 164.53 L191.84 164.57 L192.17 164.6 L192.49 164.33 L192.81 164.88 L193.14 164.07 L193.46 164.15 L193.79 164.53 L194.11 163.71 L194.44 163.56 L194.76 164.29 L195.09 163.6 L195.41 164.23 L195.74 164.09 L196.06 163.5 L196.38 163.4 L196.71 163.07 L197.03 163.95 L197.36 163.39 L197.68 163.23 L198.01 162.99 L198.33 163 L198.66 163.74 L198.98 162.81 L199.3 163.28 L199.63 163.33 L199.95 163.17 L200.28 163.11 L200.6 162.95 L200.93 162.67 L201.25 163.38 L201.58 163.44 L201.9 163.01 L202.22 162.6 L202.55 163.36 L202.87 162.47 L203.2 162.4 L203.52 162.91 L203.85 163.13 L204.17 162.79 L204.5 162.2 L204.82 163.22 L205.15 162.2 L205.47 162.4 L205.79 163.14 L206.12 162.88 L206.44 162.81 L206.77 161.97 L207.09 162.88 L207.42 162.32 L207.74 161.83 L208.07 162.74 L208.39 162.89 L208.72 161.81 L209.04 162.28 L209.36 162.8 L209.69 162.1 L210.01 162.05 L210.34 162.6 L210.66 162.18 L210.99 162.83 L211.31 162.64 L211.64 162.63 L211.96 162.43 L212.28 161.8 L212.61 162.37 L212.93 162.23 L213.26 162.1 L213.58 162.18 L213.91 161.86 L214.23 161.72 L214.56 162.56 L214.88 161.9 L215.2 161.57 L215.53 162.61 L215.85 162.04 L216.18 162.23 L216.5 161.82 L216.83 162 L217.15 162 L217.28 162.08 L217.41 162.16 L217.67 161.89 L217.93 162.25 L218.19 162.98 L218.45 162.41 L218.84 163.3 L219.23 162.69 L219.75 163.53 L220.14 162.76 L220.46 163.15 L220.79 162.83 L221.11 162.92 L221.44 163.43 L221.76 163.3 L222.08 163.56 L222.41 163.23 L222.73 163.4 L223.06 163.47 L223.38 164.21 L223.71 163.27 L224.03 163.71 L224.36 164.27 L224.68 163.96 L225 163.61 L225.33 164.52 L225.65 163.47 L225.98 163.52 L226.3 163.4 L226.63 163.92 L226.95 164.44 L227.28 163.76 L227.6 163.78 L227.93 164.41 L228.25 163.55 L228.57 163.49 L228.9 164.28 L229.22 163.6 L229.55 164.14 L229.87 163.69 L230.2 164.25 L230.52 164.56 L230.85 164.09 L231.17 163.89 L231.49 164.32 L231.82 164.42 L232.14 163.66 L232.47 163.89 L232.79 164.07 L233.12 164.23 L233.44 163.96 L233.77 164.44 L234.09 163.96 L234.42 164.75 L234.74 164.1 L235.06 163.95 L235.39 163.79 L235.71 163.86 L236.04 163.98 L236.36 164.79 L236.69 164.24 L237.01 164.28 L237.34 164.91 L237.66 164.93 L237.98 164.7 L238.31 164.07 L238.63 164.19 L238.96 164.41 L239.28 164.12 L239.61 164.24 L239.93 164.09 L240.26 164.13 L240.58 164.75 L240.91 164.58 L241.23 164.4 L241.55 164.44 L241.88 164.62 L242.2 164.72 L242.53 163.93 L242.85 164.92 L243.18 164.48 L243.5 164.34 L243.83 165.09 L244.15 164.85 L244.47 164.38 L244.8 163.99 L245.12 164.5 L245.45 164.51 L245.77 164.44 L246.1 164.12 L246.42 164.7 L246.75 164.32 L247.07 164.94 L247.4 164.67 L247.72 164.39 L248.04 165.04 L248.37 164.59 L248.69 164.17 L249.02 164.41 L249.34 164.15 L249.67 164.61 L249.99 165.19 L250.32 165.24 L250.64 164.9 L250.96 164.31 L251.29 164.42 L251.61 164.39 L251.94 164.6 L252.26 164.92 L252.59 164.19 L252.91 164.76 L253.24 164.69 L253.56 164.98 L253.89 165.19 L254.21 164.68 L254.53 164.94 L254.86 164.55 L255.18 164.78 L255.51 165 L255.83 164.31 L256.16 164.87 L256.48 164.87 L256.81 164.49 L257.13 164.58 L257.45 165.28 L257.78 164.72 L258.1 164.54 L258.43 164.66 L258.75 164.95 L259.08 164.81 L259.4 164.76 L259.73 164.73 L260.05 164.61 L260.38 164.97 L260.7 165.09 L261.02 164.48 L261.35 165.09 L261.67 164.76 L262 165.57 L262.32 165.53 L262.65 164.57 L262.97 165.26 L263.3 164.85 L263.62 164.57 L263.94 165.5 L264.27 165.54 L264.59 165.41 L264.92 165.23 L265.24 165.65 L265.57 165.15 L265.89 165.3 L266.22 165.28 L266.54 165.54 L266.87 165.54 L267.19 164.89 L267.51 164.78 L267.84 165.19 L268.16 165.25 L268.49 164.98 L268.81 165.59 L269.14 165.58 L269.46 165.4 L269.79 165.22 L270.11 165.42 L270.43 164.83 L270.76 165.57 L271.08 164.76 L271.41 165.7 L271.73 165.37 L272.06 164.96 L272.38 164.87 L272.71 165.36 L273.03 165.21 L273.36 165.49 L273.68 164.78 L274 165.72 L274.33 165.19 L274.65 165.21 L274.98 165.58 L275.3 165.43 L275.63 165.24 L275.95 165.06 L276.28 165.28 L276.6 164.76 L276.92 165.04 L277.25 165.73 L277.57 164.89 L277.9 164.85 L278.22 165.78 L278.55 165.21 L278.87 165.41 L279.2 165.48 L279.52 165.65 L279.85 165.17 L280.17 165.72 L280.49 164.8 L280.82 165.83 L281.14 165.19 L281.47 165.57 L281.79 165.19 L282.12 165.73 L282.44 165.29 L282.77 165.57 L283.09 165.24 L283.41 165.86 L283.74 165.8 L284.06 165.11 L284.39 165.79 L284.71 166.02 L285.04 165.18 L285.36 165.13 L285.69 166.02 L286.01 166.07 L286.34 165.07 L286.66 165.85 L286.98 166.04 L287.31 165.25 L287.63 165.88 L287.96 165.3 L288.28 165.9 L288.61 165.57 L288.93 165.53 L289.26 165.12 L289.58 165.76 L289.9 165.82 L290.23 165.34 L290.55 165.05 L290.88 165.11 L291.2 165.32 L291.53 166.21 L291.85 165.91 L292.18 166.1 L292.5 165.93 L292.83 165.19 L293.15 165.5 L293.47 166.19 L293.8 166.07 L294.12 166.25 L294.45 166.05 L294.77 165.92 L295.1 165.99 L295.42 166.18 L295.75 165.6 L296.07 165.13 L296.39 165.47 L296.72 165.12 L297.04 165.43 L297.37 165.82 L297.69 165.45 L298.02 165.42 L298.34 165.24 L298.67 165.56 L298.99 165.76 L299.32 165.85 L299.64 166.28 L299.96 165.24 L300.29 165.47 L300.61 165.26 L300.94 166.29 L301.26 165.93 L301.59 165.97 L301.91 166.16 L302.24 165.19 L302.56 166.28 L302.82 165.6" fill="none" stroke="#f15a29" stroke-width="1.6" stroke-linejoin="round"/>
<path d="M173.02 168.2 L173.34 168.2 L174.32 168.2 L175.29 168.2 L176.26 168.2 L177.24 168.2 L178.21 168.2 L179.19 168.2 L180.16 168.2 L181.13 168.2 L182.11 168.2 L183.08 168.2 L184.05 168.2 L185.03 168.2 L186 168.2 L186.06 167.67 L186.13 167.65 L186.19 167.62 L186.26 167.59 L186.39 167.54 L186.52 167.49 L186.78 167.38 L187.04 167.28 L187.3 167.34 L187.62 166.95 L187.95 167.24 L188.27 166.59 L188.6 166.44 L188.92 166.3 L189.25 166.76 L189.57 166.33 L189.89 165.88 L190.22 166.03 L190.54 166.21 L190.87 165.91 L191.19 166.1 L191.52 166.34 L191.84 166.03 L192.17 166.16 L192.49 165.51 L192.81 166.13 L193.14 166.16 L193.46 165.62 L193.79 164.97 L194.11 165 L194.44 165.76 L194.76 165.85 L195.09 165.64 L195.41 165.35 L195.74 165.35 L196.06 164.81 L196.38 165.36 L196.71 165.81 L197.03 164.83 L197.36 165.29 L197.68 165.55 L198.01 165.28 L198.33 164.9 L198.66 164.74 L198.98 165.31 L199.3 165.52 L199.63 165.44 L199.95 164.85 L200.28 165.24 L200.6 165.3 L200.93 164.75 L201.25 165.19 L201.58 164.72 L201.9 164.48 L202.22 164.22 L202.55 165.07 L202.87 165.08 L203.2 164.21 L203.52 164.21 L203.85 164.5 L204.17 164.35 L204.5 164.96 L204.82 164.29 L205.15 164.75 L205.47 164.69 L205.79 164.43 L206.12 165.02 L206.44 164.51 L206.77 164.58 L207.09 164.75 L207.42 164.43 L207.74 164.15 L208.07 165.06 L208.39 164.81 L208.72 164.55 L209.04 164.48 L209.36 164.61 L209.69 164.21 L210.01 163.94 L210.34 164.49 L210.66 164.91 L210.99 163.94 L211.31 164.98 L211.64 164.25 L211.96 164.99 L212.28 164.7 L212.61 164.1 L212.93 164.02 L213.26 164.82 L213.58 164.92 L213.91 164.7 L214.23 164.43 L214.56 164.37 L214.88 164.65 L215.2 164.69 L215.53 164.7 L215.85 164.04 L216.18 164.68 L216.5 164.83 L216.83 164.28 L217.15 164.28 L217.28 164.32 L217.41 164.37 L217.67 164.54 L217.93 163.94 L218.19 164.22 L218.45 164.84 L218.84 164.63 L219.23 165.29 L219.75 165.03 L220.14 165.15 L220.46 164.53 L220.79 165.01 L221.11 165.27 L221.44 165.55 L221.76 165.56 L222.08 164.83 L222.41 165.15 L222.73 165.75 L223.06 164.71 L223.38 164.72 L223.71 164.87 L224.03 165.55 L224.36 165.09 L224.68 165.56 L225 165.72 L225.33 165.71 L225.65 164.8 L225.98 165.58 L226.3 165.73 L226.63 165.62 L226.95 165.82 L227.28 165.77 L227.6 165.54 L227.93 165.85 L228.25 165.47 L228.57 164.95 L228.9 165.17 L229.22 165.95 L229.55 165.24 L229.87 165.41 L230.2 165.9 L230.52 165.68 L230.85 165.81 L231.17 165.43 L231.49 165.48 L231.82 164.97 L232.14 165.13 L232.47 165.08 L232.79 165.54 L233.12 165.54 L233.44 165 L233.77 165.68 L234.09 165.04 L234.42 165.39 L234.74 164.96 L235.06 165.51 L235.39 165.12 L235.71 166.08 L236.04 165.39 L236.36 165.96 L236.69 165.5 L237.01 165.36 L237.34 165.98 L237.66 165.31 L237.98 165.6 L238.31 165.76 L238.63 166.19 L238.96 165.85 L239.28 165.07 L239.61 165.56 L239.93 166.16 L240.26 166.05 L240.58 165.47 L240.91 165.19 L241.23 165.36 L241.55 165.95 L241.88 165.26 L242.2 166.12 L242.53 165.38 L242.85 165.89 L243.18 165.9 L243.5 165.36 L243.83 165.7 L244.15 165.83 L244.47 165.41 L244.8 165.73 L245.12 165.85 L245.45 166.25 L245.77 165.44 L246.1 165.32 L246.42 165.72 L246.75 165.83 L247.07 165.71 L247.4 166.22 L247.72 165.37 L248.04 165.75 L248.37 165.71 L248.69 165.38 L249.02 165.7 L249.34 165.7 L249.67 165.61 L249.99 166.09 L250.32 166.35 L250.64 166.34 L250.96 165.44 L251.29 165.63 L251.61 166.33 L251.94 165.29 L252.26 165.3 L252.59 165.28 L252.91 166.36 L253.24 165.82 L253.56 165.73 L253.89 165.34 L254.21 166.28 L254.53 166.42 L254.86 166.06 L255.18 166.33 L255.51 165.92 L255.83 165.62 L256.16 165.47 L256.48 165.62 L256.81 165.44 L257.13 165.71 L257.45 165.33 L257.78 165.32 L258.1 166.35 L258.43 166.3 L258.75 166.26 L259.08 165.71 L259.4 165.84 L259.73 165.95 L260.05 166.25 L260.38 165.67 L260.7 165.93 L261.02 165.98 L261.35 166.33 L261.67 165.74 L262 165.33 L262.32 165.82 L262.65 166.4 L262.97 165.55 L263.3 166.1 L263.62 165.51 L263.94 165.68 L264.27 166.11 L264.59 165.49 L264.92 165.91 L265.24 166.08 L265.57 165.84 L265.89 166.29 L266.22 166.4 L266.54 165.72 L266.87 166.31 L267.19 166.3 L267.51 166.12 L267.84 166.11 L268.16 166.09 L268.49 166.3 L268.81 166.25 L269.14 165.75 L269.46 166.21 L269.79 166.28 L270.11 165.99 L270.43 166.51 L270.76 165.82 L271.08 166.11 L271.41 166.13 L271.73 166.18 L272.06 165.68 L272.38 166.26 L272.71 165.6 L273.03 166.11 L273.36 166.01 L273.68 166.31 L274 166.51 L274.33 166.66 L274.65 165.76 L274.98 166.58 L275.3 166.06 L275.63 166.1 L275.95 165.55 L276.28 166.54 L276.6 165.78 L276.92 165.85 L277.25 165.88 L277.57 165.8 L277.9 165.87 L278.22 165.87 L278.55 166.17 L278.87 165.97 L279.2 166.45 L279.52 166.66 L279.85 166.66 L280.17 166 L280.49 166.37 L280.82 166.43 L281.14 166.43 L281.47 166.04 L281.79 165.8 L282.12 166.48 L282.44 166.36 L282.77 166 L283.09 166.38 L283.41 165.66 L283.74 166.53 L284.06 166.67 L284.39 166.76 L284.71 165.73 L285.04 166.43 L285.36 166.54 L285.69 165.78 L286.01 166.34 L286.34 165.84 L286.66 165.88 L286.98 165.65 L287.31 165.96 L287.63 166.65 L287.96 166.33 L288.28 166.59 L288.61 166.8 L288.93 165.82 L289.26 166.66 L289.58 166.72 L289.9 166.43 L290.23 166.05 L290.55 165.87 L290.88 166.19 L291.2 166.11 L291.53 165.98 L291.85 166.48 L292.18 166.43 L292.5 165.99 L292.83 165.89 L293.15 166.28 L293.47 166.54 L293.8 166.49 L294.12 166.46 L294.45 166.77 L294.77 166.61 L295.1 166.23 L295.42 166.6 L295.75 166.5 L296.07 166.12 L296.39 165.91 L296.72 166.17 L297.04 166.58 L297.37 166.62 L297.69 166.09 L298.02 166.38 L298.34 165.82 L298.67 166.45 L298.99 166.27 L299.32 166.66 L299.64 166.77 L299.96 165.81 L300.29 166.91 L300.61 165.96 L300.94 166.91 L301.26 166.94 L301.59 166.02 L301.91 166.11 L302.24 165.94 L302.56 166.86 L302.82 166.68" fill="none" stroke="#f15a29" stroke-width="1.6" stroke-linejoin="round"/>
<path d="M173.02 168.2 L173.34 168.2 L174.32 168.2 L175.29 168.2 L176.26 168.2 L177.24 168.2 L178.21 168.2 L179.19 168.2 L180.16 168.2 L181.13 168.2 L182.11 168.2 L183.08 168.2 L184.05 168.2 L185.03 168.2 L186 168.2 L186.06 167.69 L186.13 167.67 L186.19 167.66 L186.26 167.64 L186.39 167.61 L186.52 167.58 L186.78 167.52 L187.04 167.47 L187.3 167.97 L187.62 167.72 L187.95 167.11 L188.27 167.54 L188.6 166.98 L188.92 166.88 L189.25 166.94 L189.57 167.21 L189.89 166.7 L190.22 166.94 L190.54 166.91 L190.87 167.14 L191.19 166.71 L191.52 166.62 L191.84 166.74 L192.17 166.6 L192.49 166.89 L192.81 166.11 L193.14 166.17 L193.46 165.97 L193.79 166.39 L194.11 166.89 L194.44 166.57 L194.76 166.59 L195.09 166.93 L195.41 166.77 L195.74 166.12 L196.06 166.02 L196.38 166.38 L196.71 165.99 L197.03 166.42 L197.36 165.78 L197.68 166.14 L198.01 166.52 L198.33 165.95 L198.66 165.81 L198.98 166.52 L199.3 165.84 L199.63 166.68 L199.95 166.32 L200.28 166.64 L200.6 166.2 L200.93 166.13 L201.25 165.84 L201.58 165.59 L201.9 166.65 L202.22 165.76 L202.55 165.58 L202.87 166.59 L203.2 166.11 L203.52 166.15 L203.85 166.55 L204.17 166.31 L204.5 165.73 L204.82 165.75 L205.15 166.19 L205.47 166.21 L205.79 165.66 L206.12 165.68 L206.44 165.98 L206.77 165.43 L207.09 166.32 L207.42 166.13 L207.74 165.52 L208.07 166.03 L208.39 166.04 L208.72 165.43 L209.04 165.83 L209.36 166.26 L209.69 165.85 L210.01 166.17 L210.34 165.57 L210.66 166.48 L210.99 166.08 L211.31 165.94 L211.64 165.28 L211.96 165.69 L212.28 165.26 L212.61 165.78 L212.93 165.46 L213.26 165.53 L213.58 165.6 L213.91 165.4 L214.23 165.57 L214.56 165.83 L214.88 165.38 L215.2 165.89 L215.53 166.35 L215.85 166.07 L216.18 166.35 L216.5 165.33 L216.83 165.8 L217.15 165.8 L217.28 165.82 L217.41 165.85 L217.67 166.09 L217.93 165.62 L218.19 166.49 L218.45 166 L218.84 166.31 L219.23 166.41 L219.75 165.68 L220.14 165.66 L220.46 166.54 L220.79 166.57 L221.11 166.12 L221.44 165.65 L221.76 165.67 L222.08 166.62 L222.41 166.51 L222.73 166.14 L223.06 166.52 L223.38 166.69 L223.71 165.74 L224.03 166.64 L224.36 166.93 L224.68 166.81 L225 166.83 L225.33 166.3 L225.65 166.51 L225.98 165.92 L226.3 166.74 L226.63 166.59 L226.95 166.29 L227.28 165.87 L227.6 166.03 L227.93 166.3 L228.25 166.92 L228.57 166.39 L228.9 166.86 L229.22 166.05 L229.55 166.14 L229.87 166.12 L230.2 166.18 L230.52 166.8 L230.85 166.29 L231.17 166.23 L231.49 166.67 L231.82 166.39 L232.14 166.91 L232.47 166.7 L232.79 166.86 L233.12 166.38 L233.44 166.34 L233.77 166.42 L234.09 167.06 L234.42 167.01 L234.74 166.56 L235.06 166.48 L235.39 165.98 L235.71 166.92 L236.04 166.63 L236.36 166.39 L236.69 166.1 L237.01 166.47 L237.34 166.76 L237.66 166.23 L237.98 166.23 L238.31 166.53 L238.63 166.51 L238.96 165.93 L239.28 166 L239.61 166.38 L239.93 166.78 L240.26 166.39 L240.58 165.95 L240.91 166.23 L241.23 166.17 L241.55 166.86 L241.88 166.22 L242.2 167.13 L242.53 166.3 L242.85 166.17 L243.18 165.98 L243.5 166.55 L243.83 166.58 L244.15 166.9 L244.47 166.77 L244.8 166.62 L245.12 166.04 L245.45 167.09 L245.77 166.27 L246.1 166.26 L246.42 166.19 L246.75 166.69 L247.07 166.77 L247.4 166.37 L247.72 166.3 L248.04 166.01 L248.37 166.71 L248.69 166.85 L249.02 166.15 L249.34 166.29 L249.67 166.91 L249.99 166.86 L250.32 166.18 L250.64 167.2 L250.96 166.88 L251.29 166.88 L251.61 166.41 L251.94 167.18 L252.26 166.56 L252.59 166.79 L252.91 167.21 L253.24 167.04 L253.56 166.25 L253.89 166.2 L254.21 166.29 L254.53 166.19 L254.86 167.11 L255.18 166.7 L255.51 166.62 L255.83 166.5 L256.16 166.65 L256.48 166.58 L256.81 166.93 L257.13 166.56 L257.45 167.11 L257.78 167.08 L258.1 167.11 L258.43 166.97 L258.75 166.28 L259.08 166.58 L259.4 167.09 L259.73 166.51 L260.05 166.77 L260.38 166.34 L260.7 167.08 L261.02 166.49 L261.35 166.53 L261.67 167.08 L262 166.21 L262.32 166.11 L262.65 166.61 L262.97 166.64 L263.3 166.24 L263.62 166.58 L263.94 167.04 L264.27 167.18 L264.59 167.23 L264.92 167.07 L265.24 166.21 L265.57 166.56 L265.89 166.67 L266.22 166.16 L266.54 167.07 L266.87 166.47 L267.19 167.07 L267.51 166.95 L267.84 166.46 L268.16 166.55 L268.49 166.69 L268.81 166.38 L269.14 166.16 L269.46 166.66 L269.79 166.43 L270.11 166.46 L270.43 167.1 L270.76 167.05 L271.08 166.66 L271.41 166.19 L271.73 167.08 L272.06 166.48 L272.38 166.29 L272.71 167.08 L273.03 167.26 L273.36 166.48 L273.68 166.83 L274 167.25 L274.33 166.81 L274.65 166.6 L274.98 166.37 L275.3 166.22 L275.63 167.26 L275.95 167.17 L276.28 166.41 L276.6 166.97 L276.92 166.43 L277.25 167.1 L277.57 166.66 L277.9 167.04 L278.22 166.85 L278.55 166.31 L278.87 166.89 L279.2 167 L279.52 166.27 L279.85 166.26 L280.17 166.54 L280.49 167.09 L280.82 167.4 L281.14 166.76 L281.47 167.26 L281.79 167.08 L282.12 166.56 L282.44 166.77 L282.77 167.25 L283.09 166.82 L283.41 166.85 L283.74 167.11 L284.06 166.42 L284.39 166.8 L284.71 166.87 L285.04 166.93 L285.36 167.08 L285.69 166.58 L286.01 166.82 L286.34 166.81 L286.66 166.38 L286.98 167.2 L287.31 167.41 L287.63 166.93 L287.96 166.76 L288.28 166.71 L288.61 166.81 L288.93 166.71 L289.26 166.6 L289.58 167.41 L289.9 166.71 L290.23 166.53 L290.55 167.07 L290.88 166.29 L291.2 166.71 L291.53 166.96 L291.85 167.27 L292.18 166.65 L292.5 166.35 L292.83 167.45 L293.15 166.31 L293.47 166.8 L293.8 166.91 L294.12 167.48 L294.45 166.73 L294.77 166.59 L295.1 166.64 L295.42 166.75 L295.75 166.48 L296.07 167.39 L296.39 166.92 L296.72 167.19 L297.04 166.64 L297.37 167.11 L297.69 167.41 L298.02 166.59 L298.34 167.47 L298.67 166.66 L298.99 167.18 L299.32 167.45 L299.64 166.88 L299.96 167.44 L300.29 166.8 L300.61 166.85 L300.94 167.44 L301.26 167.05 L301.59 166.4 L301.91 166.51 L302.24 166.98 L302.56 166.75 L302.82 166.41" fill="none" stroke="#f15a29" stroke-width="1.6" stroke-linejoin="round"/>
<text x="214.27" y="39.8" font-size="12.21" font-weight="bold" fill="#000" textLength="67.29" lengthAdjust="spacingAndGlyphs">IL-12Fc NHQ</text>
<text x="182.66" y="183.3" font-size="12.43" font-weight="bold" fill="#000" textLength="6.28" lengthAdjust="spacingAndGlyphs">0</text>
<text x="242.25" y="183.3" font-size="12.43" font-weight="bold" fill="#000" textLength="18.85" lengthAdjust="spacingAndGlyphs">500</text>
<text x="275.39" y="183.3" font-size="12.1" font-weight="bold" fill="#000" textLength="38.61" lengthAdjust="spacingAndGlyphs">time (s)</text>
<line x1="344.9" y1="31.8" x2="344.9" y2="168" stroke="#141414" stroke-width="1.3"/>
<line x1="340.1" y1="168" x2="344.9" y2="168" stroke="#141414" stroke-width="1.2"/>
<text x="332.67" y="171.6" font-size="12.43" font-weight="bold" fill="#000" textLength="6.62" lengthAdjust="spacingAndGlyphs">0</text>
<line x1="340.1" y1="140.88" x2="344.9" y2="140.88" stroke="#141414" stroke-width="1.2"/>
<text x="312.79" y="144.48" font-size="12.43" font-weight="bold" fill="#000" textLength="26.48" lengthAdjust="spacingAndGlyphs">2000</text>
<line x1="340.1" y1="113.76" x2="344.9" y2="113.76" stroke="#141414" stroke-width="1.2"/>
<text x="312.79" y="117.36" font-size="12.43" font-weight="bold" fill="#000" textLength="26.48" lengthAdjust="spacingAndGlyphs">4000</text>
<line x1="340.1" y1="86.64" x2="344.9" y2="86.64" stroke="#141414" stroke-width="1.2"/>
<text x="312.79" y="90.24" font-size="12.43" font-weight="bold" fill="#000" textLength="26.48" lengthAdjust="spacingAndGlyphs">6000</text>
<line x1="340.1" y1="59.52" x2="344.9" y2="59.52" stroke="#141414" stroke-width="1.2"/>
<text x="312.79" y="63.12" font-size="12.43" font-weight="bold" fill="#000" textLength="26.48" lengthAdjust="spacingAndGlyphs">8000</text>
<line x1="340.1" y1="32.4" x2="344.9" y2="32.4" stroke="#141414" stroke-width="1.2"/>
<text x="306.19" y="36" font-size="12.43" font-weight="bold" fill="#000" textLength="33.1" lengthAdjust="spacingAndGlyphs">10000</text>
<line x1="340.2" y1="168" x2="543" y2="168" stroke="#141414" stroke-width="1.3"/>
<rect x="350" y="166.6" width="10.1" height="1.4" fill="#17aa9c"/>
<line x1="355.05" y1="168" x2="355.05" y2="174.3" stroke="#141414" stroke-width="1.2"/>
<text x="0" y="0" transform="translate(357.45 180.2) rotate(-45)" font-size="9.9" font-weight="bold" text-anchor="end">WT</text>
<rect x="364.86" y="165.8" width="10.1" height="2.2" fill="#000"/>
<line x1="369.91" y1="168" x2="369.91" y2="174.3" stroke="#141414" stroke-width="1.2"/>
<text x="0" y="0" transform="translate(372.31 180.2) rotate(-45)" font-size="9.9" font-weight="bold" text-anchor="end">WT S228P</text>
<rect x="379.72" y="157" width="10.1" height="11" fill="#000"/>
<line x1="384.77" y1="168" x2="384.77" y2="174.3" stroke="#141414" stroke-width="1.2"/>
<text x="0" y="0" transform="translate(387.17 180.2) rotate(-45)" font-size="9.9" font-weight="bold" text-anchor="end">IAQ</text>
<rect x="394.58" y="162" width="10.1" height="6" fill="#000"/>
<line x1="399.63" y1="168" x2="399.63" y2="174.3" stroke="#141414" stroke-width="1.2"/>
<text x="0" y="0" transform="translate(402.03 180.2) rotate(-45)" font-size="9.9" font-weight="bold" text-anchor="end">AAA</text>
<rect x="409.44" y="51.9" width="10.1" height="116.1" fill="#f15a29"/>
<line x1="414.49" y1="168" x2="414.49" y2="174.3" stroke="#141414" stroke-width="1.2"/>
<text x="0" y="0" transform="translate(416.89 180.2) rotate(-45)" font-size="9.9" font-weight="bold" text-anchor="end">NHQ</text>
<rect x="424.3" y="154.2" width="10.1" height="13.8" fill="#000"/>
<line x1="429.35" y1="168" x2="429.35" y2="174.3" stroke="#141414" stroke-width="1.2"/>
<text x="0" y="0" transform="translate(431.75 180.2) rotate(-45)" font-size="9.9" font-weight="bold" text-anchor="end">AHQ</text>
<rect x="439.16" y="147.5" width="10.1" height="20.5" fill="#000"/>
<line x1="444.21" y1="168" x2="444.21" y2="174.3" stroke="#141414" stroke-width="1.2"/>
<text x="0" y="0" transform="translate(446.61 180.2) rotate(-45)" font-size="9.9" font-weight="bold" text-anchor="end">AAQ</text>
<rect x="454.02" y="151.3" width="10.1" height="16.7" fill="#000"/>
<line x1="459.07" y1="168" x2="459.07" y2="174.3" stroke="#141414" stroke-width="1.2"/>
<text x="0" y="0" transform="translate(461.47 180.2) rotate(-45)" font-size="9.9" font-weight="bold" text-anchor="end">AHH</text>
<rect x="468.88" y="136.3" width="10.1" height="31.7" fill="#000"/>
<line x1="473.93" y1="168" x2="473.93" y2="174.3" stroke="#141414" stroke-width="1.2"/>
<text x="0" y="0" transform="translate(476.33 180.2) rotate(-45)" font-size="9.9" font-weight="bold" text-anchor="end">NHH</text>
<rect x="483.74" y="148.5" width="10.1" height="19.5" fill="#000"/>
<line x1="488.79" y1="168" x2="488.79" y2="174.3" stroke="#141414" stroke-width="1.2"/>
<text x="0" y="0" transform="translate(491.19 180.2) rotate(-45)" font-size="9.9" font-weight="bold" text-anchor="end">AAH</text>
<rect x="498.6" y="124.7" width="10.1" height="43.3" fill="#000"/>
<line x1="503.65" y1="168" x2="503.65" y2="174.3" stroke="#141414" stroke-width="1.2"/>
<text x="0" y="0" transform="translate(506.05 180.2) rotate(-45)" font-size="9.9" font-weight="bold" text-anchor="end">AAE</text>
<rect x="513.46" y="163.4" width="10.1" height="4.6" fill="#000"/>
<line x1="518.51" y1="168" x2="518.51" y2="174.3" stroke="#141414" stroke-width="1.2"/>
<text x="0" y="0" transform="translate(520.91 180.2) rotate(-45)" font-size="9.9" font-weight="bold" text-anchor="end">control IgG4</text>
<rect x="528.32" y="165.1" width="10.1" height="2.9" fill="#000"/>
<line x1="533.37" y1="168" x2="533.37" y2="174.3" stroke="#141414" stroke-width="1.2"/>
<text x="0" y="0" transform="translate(535.77 180.2) rotate(-45)" font-size="9.9" font-weight="bold" text-anchor="end">control IgG1</text>
<text x="0" y="0" transform="translate(303.8 117.9) rotate(-90)" font-size="12.2" font-weight="bold" textLength="44" lengthAdjust="spacingAndGlyphs">K<tspan font-size="8.2" dy="3.3">D</tspan><tspan dy="-3.3"> (nM)</tspan></text>
<line x1="584.8" y1="27.8" x2="584.8" y2="168.3" stroke="#141414" stroke-width="1.3"/>
<line x1="581.3" y1="168.3" x2="584.8" y2="168.3" stroke="#141414" stroke-width="1.2"/>
<text x="572.64" y="172.2" font-size="12.65" font-weight="bold" fill="#000" textLength="6.65" lengthAdjust="spacingAndGlyphs">0</text>
<line x1="581.3" y1="121.77" x2="584.8" y2="121.77" stroke="#141414" stroke-width="1.2"/>
<text x="562.47" y="125.67" font-size="12.65" font-weight="bold" fill="#000" textLength="16.63" lengthAdjust="spacingAndGlyphs">0.5</text>
<line x1="581.3" y1="75.23" x2="584.8" y2="75.23" stroke="#141414" stroke-width="1.2"/>
<text x="562.65" y="79.13" font-size="12.65" font-weight="bold" fill="#000" textLength="16.63" lengthAdjust="spacingAndGlyphs">1.0</text>
<line x1="581.3" y1="28.7" x2="584.8" y2="28.7" stroke="#141414" stroke-width="1.2"/>
<text x="562.47" y="32.6" font-size="12.65" font-weight="bold" fill="#000" textLength="16.63" lengthAdjust="spacingAndGlyphs">1.5</text>
<line x1="582.1" y1="168.3" x2="680.4" y2="168.3" stroke="#141414" stroke-width="1.3"/>
<line x1="599.5" y1="168.3" x2="599.5" y2="172.8" stroke="#141414" stroke-width="1.2"/>
<line x1="621.7" y1="168.3" x2="621.7" y2="172.8" stroke="#141414" stroke-width="1.2"/>
<line x1="643.6" y1="168.3" x2="643.6" y2="172.8" stroke="#141414" stroke-width="1.2"/>
<line x1="665.8" y1="168.3" x2="665.8" y2="172.8" stroke="#141414" stroke-width="1.2"/>
<text x="586.4" y="186.1" font-size="12.54" font-weight="bold" fill="#000" textLength="17.91" lengthAdjust="spacingAndGlyphs">WT</text>
<text x="607.61" y="186.1" font-size="12.54" font-weight="bold" fill="#000" textLength="21.61" lengthAdjust="spacingAndGlyphs">IAQ</text>
<text x="631.01" y="186.1" font-size="12.54" font-weight="bold" fill="#000" textLength="25.2" lengthAdjust="spacingAndGlyphs">AAA</text>
<text x="657.38" y="186.1" font-size="12.54" font-weight="bold" fill="#000" textLength="28.05" lengthAdjust="spacingAndGlyphs">NHQ</text>
<text x="0" y="0" transform="translate(557.38 178.27) rotate(-90)" font-size="11.95" font-weight="bold" fill="#000" textLength="158.26" lengthAdjust="spacingAndGlyphs">IL-12 (ng/mg of brain tissue)</text>
<circle cx="599.6" cy="95.8" r="2.9" fill="#17aa9c"/>
<circle cx="599.6" cy="106.7" r="2.9" fill="#17aa9c"/>
<circle cx="594.5" cy="119.9" r="2.9" fill="#17aa9c"/>
<circle cx="604.7" cy="119.9" r="2.9" fill="#17aa9c"/>
<circle cx="594" cy="124.2" r="2.9" fill="#17aa9c"/>
<circle cx="604.7" cy="127.2" r="2.9" fill="#17aa9c"/>
<circle cx="594.5" cy="131.5" r="2.9" fill="#17aa9c"/>
<circle cx="600" cy="121" r="2.9" fill="#17aa9c"/>
<circle cx="624.4" cy="110.4" r="2.9" fill="#000"/>
<circle cx="620.8" cy="113.3" r="2.9" fill="#000"/>
<circle cx="616.4" cy="123.5" r="2.9" fill="#000"/>
<circle cx="620.8" cy="124.2" r="2.9" fill="#000"/>
<circle cx="627.3" cy="123.5" r="2.9" fill="#000"/>
<circle cx="623.7" cy="127.2" r="2.9" fill="#000"/>
<circle cx="621.5" cy="130" r="2.9" fill="#000"/>
<circle cx="621.5" cy="139.6" r="2.9" fill="#000"/>
<circle cx="643.8" cy="103" r="2.9" fill="#000"/>
<circle cx="638.3" cy="111.1" r="2.9" fill="#000"/>
<circle cx="649.2" cy="116.2" r="2.9" fill="#000"/>
<circle cx="638.3" cy="122.5" r="2.9" fill="#000"/>
<circle cx="643.8" cy="121.3" r="2.9" fill="#000"/>
<circle cx="649.2" cy="125" r="2.9" fill="#000"/>
<circle cx="643.8" cy="131.5" r="2.9" fill="#000"/>
<circle cx="649.2" cy="137.4" r="2.9" fill="#000"/>
<circle cx="638.3" cy="143.2" r="2.9" fill="#000"/>
<circle cx="665.7" cy="67.6" r="2.9" fill="#f15a29"/>
<circle cx="665.7" cy="85.5" r="2.9" fill="#f15a29"/>
<circle cx="667.5" cy="99.1" r="2.9" fill="#f15a29"/>
<circle cx="663.8" cy="100.9" r="2.9" fill="#f15a29"/>
<circle cx="660.6" cy="109.6" r="2.9" fill="#f15a29"/>
<circle cx="671.1" cy="114" r="2.9" fill="#f15a29"/>
<circle cx="660.6" cy="117.7" r="2.9" fill="#f15a29"/>
<circle cx="665.7" cy="108" r="2.9" fill="#f15a29"/>
<line x1="599.6" y1="108.2" x2="599.6" y2="131.2" stroke="#000" stroke-width="1.4"/>
<line x1="592.3" y1="119.6" x2="606.9" y2="119.6" stroke="#000" stroke-width="1.4"/>
<line x1="595.1" y1="108.2" x2="604.1" y2="108.2" stroke="#000" stroke-width="1.4"/>
<line x1="595.1" y1="131.2" x2="604.1" y2="131.2" stroke="#000" stroke-width="1.4"/>
<line x1="621.5" y1="114.7" x2="621.5" y2="132.6" stroke="#000" stroke-width="1.4"/>
<line x1="614.2" y1="124" x2="628.8" y2="124" stroke="#000" stroke-width="1.4"/>
<line x1="617" y1="114.7" x2="626" y2="114.7" stroke="#000" stroke-width="1.4"/>
<line x1="617" y1="132.6" x2="626" y2="132.6" stroke="#000" stroke-width="1.4"/>
<line x1="643.8" y1="111.1" x2="643.8" y2="136.2" stroke="#000" stroke-width="1.4"/>
<line x1="636.5" y1="123.5" x2="651.1" y2="123.5" stroke="#000" stroke-width="1.4"/>
<line x1="639.3" y1="111.1" x2="648.3" y2="111.1" stroke="#000" stroke-width="1.4"/>
<line x1="639.3" y1="136.2" x2="648.3" y2="136.2" stroke="#000" stroke-width="1.4"/>
<line x1="665.8" y1="86" x2="665.8" y2="119.1" stroke="#000" stroke-width="1.4"/>
<line x1="658.5" y1="102.6" x2="673.1" y2="102.6" stroke="#000" stroke-width="1.4"/>
<line x1="661.3" y1="86" x2="670.3" y2="86" stroke="#000" stroke-width="1.4"/>
<line x1="661.3" y1="119.1" x2="670.3" y2="119.1" stroke="#000" stroke-width="1.4"/>
<line x1="644.3" y1="31.1" x2="667.7" y2="31.1" stroke="#141414" stroke-width="1.3"/>
<line x1="623" y1="46" x2="667.7" y2="46" stroke="#141414" stroke-width="1.3"/>
<line x1="598.9" y1="60.7" x2="667.7" y2="60.7" stroke="#141414" stroke-width="1.3"/>
<text x="637.04" y="28.5" font-size="9.54" font-weight="normal" font-style="italic" fill="#262626" stroke="#262626" stroke-width="0.2" textLength="40.5" lengthAdjust="spacingAndGlyphs">p=0.0078</text>
<text x="626.15" y="43" font-size="9.54" font-weight="normal" font-style="italic" fill="#262626" stroke="#262626" stroke-width="0.2" textLength="41.29" lengthAdjust="spacingAndGlyphs">p=0.0092</text>
<text x="616.94" y="57.2" font-size="9.54" font-weight="normal" font-style="italic" fill="#262626" stroke="#262626" stroke-width="0.2" textLength="40.45" lengthAdjust="spacingAndGlyphs">p=0.0386</text>
<line x1="84.8" y1="233.9" x2="84.8" y2="372.4" stroke="#141414" stroke-width="1.3"/>
<line x1="80.6" y1="372.4" x2="84.8" y2="372.4" stroke="#141414" stroke-width="1.2"/>
<text x="70.05" y="376.9" font-size="12.1" font-weight="bold" fill="#000" textLength="6.42" lengthAdjust="spacingAndGlyphs">0</text>
<line x1="80.6" y1="337.88" x2="84.8" y2="337.88" stroke="#141414" stroke-width="1.2"/>
<text x="69.88" y="342" font-size="12.1" font-weight="bold" fill="#000" textLength="6.42" lengthAdjust="spacingAndGlyphs">1</text>
<line x1="80.6" y1="303.35" x2="84.8" y2="303.35" stroke="#141414" stroke-width="1.2"/>
<text x="70.05" y="308.9" font-size="12.1" font-weight="bold" fill="#000" textLength="6.42" lengthAdjust="spacingAndGlyphs">2</text>
<line x1="80.6" y1="268.82" x2="84.8" y2="268.82" stroke="#141414" stroke-width="1.2"/>
<text x="69.99" y="274.4" font-size="12.1" font-weight="bold" fill="#000" textLength="6.42" lengthAdjust="spacingAndGlyphs">3</text>
<line x1="80.6" y1="234.3" x2="84.8" y2="234.3" stroke="#141414" stroke-width="1.2"/>
<text x="69.65" y="239.7" font-size="12.1" font-weight="bold" fill="#000" textLength="6.42" lengthAdjust="spacingAndGlyphs">4</text>
<line x1="81" y1="372.4" x2="183.2" y2="372.4" stroke="#141414" stroke-width="1.3"/>
<line x1="99.5" y1="372.4" x2="99.5" y2="378" stroke="#141414" stroke-width="1.2"/>
<line x1="121.7" y1="372.4" x2="121.7" y2="378" stroke="#141414" stroke-width="1.2"/>
<line x1="144.1" y1="372.4" x2="144.1" y2="378" stroke="#141414" stroke-width="1.2"/>
<line x1="167" y1="372.4" x2="167" y2="378" stroke="#141414" stroke-width="1.2"/>
<text x="84.7" y="392" font-size="12.54" font-weight="bold" fill="#000" textLength="16.8" lengthAdjust="spacingAndGlyphs">WT</text>
<text x="104.69" y="392" font-size="12.54" font-weight="bold" fill="#000" textLength="27.74" lengthAdjust="spacingAndGlyphs">NHQ</text>
<text x="136" y="392" font-size="12.54" font-weight="bold" fill="#000" textLength="17.11" lengthAdjust="spacingAndGlyphs">WT</text>
<text x="156.79" y="392" font-size="12.54" font-weight="bold" fill="#000" textLength="27.53" lengthAdjust="spacingAndGlyphs">NHQ</text>
<text x="11.81" y="405.5" font-size="12.54" font-weight="bold" fill="#000" textLength="68.05" lengthAdjust="spacingAndGlyphs">MST-HN Fc:</text>
<text x="97" y="405" font-size="12.54" font-weight="bold" fill="#000" textLength="4.96" lengthAdjust="spacingAndGlyphs">-</text>
<text x="119.17" y="405" font-size="12.54" font-weight="bold" fill="#000" textLength="5.22" lengthAdjust="spacingAndGlyphs">-</text>
<text x="139.4" y="405.5" font-size="12.54" font-weight="bold" fill="#000" textLength="8.79" lengthAdjust="spacingAndGlyphs">+</text>
<text x="162.42" y="405.5" font-size="12.54" font-weight="bold" fill="#000" textLength="8.44" lengthAdjust="spacingAndGlyphs">+</text>
<text x="0" y="0" transform="translate(56.78 384.77) rotate(-90)" font-size="11.95" font-weight="bold" fill="#000" textLength="158.76" lengthAdjust="spacingAndGlyphs">IL-12 (ng/mg of brain tissue)</text>
<circle cx="99.8" cy="300.3" r="2.9" fill="#17aa9c"/>
<circle cx="99.8" cy="316.5" r="2.9" fill="#17aa9c"/>
<circle cx="94.3" cy="334.3" r="2.9" fill="#17aa9c"/>
<circle cx="104.7" cy="339.8" r="2.9" fill="#17aa9c"/>
<circle cx="94.3" cy="343.1" r="2.9" fill="#17aa9c"/>
<circle cx="122" cy="270.4" r="2.9" fill="#f15a29"/>
<circle cx="122" cy="276.6" r="2.9" fill="#f15a29"/>
<circle cx="117.2" cy="297.6" r="2.9" fill="#f15a29"/>
<circle cx="127.6" cy="299.2" r="2.9" fill="#f15a29"/>
<circle cx="122" cy="316.5" r="2.9" fill="#f15a29"/>
<circle cx="146.6" cy="285.4" r="2.9" fill="#17aa9c"/>
<circle cx="143.3" cy="287.6" r="2.9" fill="#17aa9c"/>
<circle cx="143.3" cy="294.3" r="2.9" fill="#17aa9c"/>
<circle cx="149.9" cy="295.4" r="2.9" fill="#17aa9c"/>
<circle cx="139.9" cy="298.3" r="2.9" fill="#17aa9c"/>
<circle cx="146.6" cy="297.6" r="2.9" fill="#17aa9c"/>
<circle cx="145" cy="324.2" r="2.9" fill="#17aa9c"/>
<circle cx="145" cy="332" r="2.9" fill="#17aa9c"/>
<circle cx="167.7" cy="272.6" r="2.9" fill="#f15a29"/>
<circle cx="167.7" cy="287" r="2.9" fill="#f15a29"/>
<circle cx="162.1" cy="295.4" r="2.9" fill="#f15a29"/>
<circle cx="172.8" cy="292.5" r="2.9" fill="#f15a29"/>
<circle cx="162.6" cy="302.7" r="2.9" fill="#f15a29"/>
<circle cx="172.8" cy="302.1" r="2.9" fill="#f15a29"/>
<circle cx="167.7" cy="329.8" r="2.9" fill="#f15a29"/>
<circle cx="167.7" cy="348.6" r="2.9" fill="#f15a29"/>
<line x1="99.8" y1="308.3" x2="99.8" y2="344.2" stroke="#000" stroke-width="1.4"/>
<line x1="92.5" y1="326.5" x2="107.1" y2="326.5" stroke="#000" stroke-width="1.4"/>
<line x1="95.3" y1="308.3" x2="104.3" y2="308.3" stroke="#000" stroke-width="1.4"/>
<line x1="95.3" y1="344.2" x2="104.3" y2="344.2" stroke="#000" stroke-width="1.4"/>
<line x1="122" y1="273.2" x2="122" y2="311" stroke="#000" stroke-width="1.4"/>
<line x1="114.7" y1="292.1" x2="129.3" y2="292.1" stroke="#000" stroke-width="1.4"/>
<line x1="117.5" y1="273.2" x2="126.5" y2="273.2" stroke="#000" stroke-width="1.4"/>
<line x1="117.5" y1="311" x2="126.5" y2="311" stroke="#000" stroke-width="1.4"/>
<line x1="145" y1="284.8" x2="145" y2="318.7" stroke="#000" stroke-width="1.4"/>
<line x1="137.7" y1="301.4" x2="152.3" y2="301.4" stroke="#000" stroke-width="1.4"/>
<line x1="140.5" y1="284.8" x2="149.5" y2="284.8" stroke="#000" stroke-width="1.4"/>
<line x1="140.5" y1="318.7" x2="149.5" y2="318.7" stroke="#000" stroke-width="1.4"/>
<line x1="167.7" y1="279.2" x2="167.7" y2="327.6" stroke="#000" stroke-width="1.4"/>
<line x1="160.4" y1="303.6" x2="175" y2="303.6" stroke="#000" stroke-width="1.4"/>
<line x1="163.2" y1="279.2" x2="172.2" y2="279.2" stroke="#000" stroke-width="1.4"/>
<line x1="163.2" y1="327.6" x2="172.2" y2="327.6" stroke="#000" stroke-width="1.4"/>
<line x1="99.3" y1="255.6" x2="122.7" y2="255.6" stroke="#141414" stroke-width="1.3"/>
<line x1="144.4" y1="255.6" x2="167.6" y2="255.6" stroke="#141414" stroke-width="1.3"/>
<text x="91.74" y="251.6" font-size="9.54" font-weight="normal" font-style="italic" fill="#262626" stroke="#262626" stroke-width="0.2" textLength="40.95" lengthAdjust="spacingAndGlyphs">p=0.0177</text>
<text x="138.54" y="251.6" font-size="9.54" font-weight="normal" font-style="italic" fill="#262626" stroke="#262626" stroke-width="0.2" textLength="40.1" lengthAdjust="spacingAndGlyphs">p=0.8663</text>
<line x1="291.1" y1="248.9" x2="291.1" y2="370.1" stroke="#141414" stroke-width="1.3"/>
<line x1="288.5" y1="370.1" x2="291.1" y2="370.1" stroke="#141414" stroke-width="1.2"/>
<text x="280.64" y="375.1" font-size="12.32" font-weight="bold" fill="#000" textLength="6.54" lengthAdjust="spacingAndGlyphs">0</text>
<line x1="288.5" y1="350.03" x2="291.1" y2="350.03" stroke="#141414" stroke-width="1.2"/>
<text x="280.47" y="352.43" font-size="12.32" font-weight="bold" fill="#000" textLength="6.54" lengthAdjust="spacingAndGlyphs">1</text>
<line x1="288.5" y1="329.97" x2="291.1" y2="329.97" stroke="#141414" stroke-width="1.2"/>
<text x="280.64" y="332.37" font-size="12.32" font-weight="bold" fill="#000" textLength="6.54" lengthAdjust="spacingAndGlyphs">2</text>
<line x1="288.5" y1="309.9" x2="291.1" y2="309.9" stroke="#141414" stroke-width="1.2"/>
<text x="280.58" y="312.3" font-size="12.32" font-weight="bold" fill="#000" textLength="6.54" lengthAdjust="spacingAndGlyphs">3</text>
<line x1="288.5" y1="289.83" x2="291.1" y2="289.83" stroke="#141414" stroke-width="1.2"/>
<text x="280.23" y="292.23" font-size="12.32" font-weight="bold" fill="#000" textLength="6.54" lengthAdjust="spacingAndGlyphs">4</text>
<line x1="288.5" y1="269.77" x2="291.1" y2="269.77" stroke="#141414" stroke-width="1.2"/>
<text x="280.47" y="272.17" font-size="12.32" font-weight="bold" fill="#000" textLength="6.54" lengthAdjust="spacingAndGlyphs">5</text>
<line x1="288.5" y1="249.7" x2="291.1" y2="249.7" stroke="#141414" stroke-width="1.2"/>
<text x="280.58" y="252.1" font-size="12.32" font-weight="bold" fill="#000" textLength="6.54" lengthAdjust="spacingAndGlyphs">6</text>
<line x1="291.1" y1="370.1" x2="479.5" y2="370.1" stroke="#141414" stroke-width="1.3"/>
<line x1="300.2" y1="370.1" x2="300.2" y2="372.6" stroke="#141414" stroke-width="1.2"/>
<text x="296.76" y="383.4" font-size="12.98" font-weight="bold" fill="#000" textLength="6.89" lengthAdjust="spacingAndGlyphs">0</text>
<line x1="325.64" y1="370.1" x2="325.64" y2="372.6" stroke="#141414" stroke-width="1.2"/>
<text x="321.99" y="383.4" font-size="12.98" font-weight="bold" fill="#000" textLength="6.89" lengthAdjust="spacingAndGlyphs">1</text>
<line x1="351.09" y1="370.1" x2="351.09" y2="372.6" stroke="#141414" stroke-width="1.2"/>
<text x="347.68" y="383.4" font-size="12.98" font-weight="bold" fill="#000" textLength="6.89" lengthAdjust="spacingAndGlyphs">2</text>
<line x1="376.53" y1="370.1" x2="376.53" y2="372.6" stroke="#141414" stroke-width="1.2"/>
<text x="373.15" y="383.4" font-size="12.98" font-weight="bold" fill="#000" textLength="6.89" lengthAdjust="spacingAndGlyphs">3</text>
<line x1="401.97" y1="370.1" x2="401.97" y2="372.6" stroke="#141414" stroke-width="1.2"/>
<text x="398.47" y="383.4" font-size="12.98" font-weight="bold" fill="#000" textLength="6.89" lengthAdjust="spacingAndGlyphs">4</text>
<line x1="427.41" y1="370.1" x2="427.41" y2="372.6" stroke="#141414" stroke-width="1.2"/>
<text x="423.95" y="383.4" font-size="12.98" font-weight="bold" fill="#000" textLength="6.89" lengthAdjust="spacingAndGlyphs">5</text>
<line x1="452.86" y1="370.1" x2="452.86" y2="372.6" stroke="#141414" stroke-width="1.2"/>
<text x="449.42" y="383.4" font-size="12.98" font-weight="bold" fill="#000" textLength="6.89" lengthAdjust="spacingAndGlyphs">6</text>
<line x1="478.3" y1="370.1" x2="478.3" y2="372.6" stroke="#141414" stroke-width="1.2"/>
<text x="474.86" y="383.4" font-size="12.98" font-weight="bold" fill="#000" textLength="6.89" lengthAdjust="spacingAndGlyphs">7</text>
<text x="370.43" y="395.1" font-size="12.76" font-weight="bold" fill="#000" textLength="21.83" lengthAdjust="spacingAndGlyphs">Day</text>
<text x="368.11" y="234.4" font-size="12.76" font-weight="bold" fill="#000" textLength="29.72" lengthAdjust="spacingAndGlyphs">brain</text>
<text x="0" y="0" transform="translate(263.33 387.48) rotate(-90)" font-size="11.95" font-weight="bold" fill="#000" textLength="160.58" lengthAdjust="spacingAndGlyphs">IL-12 (ng/mg of brain tissue)</text>
<path d="M300.2 298.86 L306.56 325.95 L325.64 336.79 L376.53 359.06 L478.3 369.7" fill="none" stroke="#000" stroke-width="1.5" stroke-linejoin="round"/>
<path d="M300.2 286.42 L306.56 313.91 L325.64 327.56 L376.53 350.43 L478.3 365.69" fill="none" stroke="#17aa9c" stroke-width="1.5" stroke-linejoin="round"/>
<path d="M300.2 275.79 L306.56 306.49 L325.64 316.32 L376.53 354.85 L478.3 367.89" fill="none" stroke="#f15a29" stroke-width="1.5" stroke-linejoin="round"/>
<line x1="317.6" y1="281.2" x2="310.66" y2="296.67" stroke="#000" stroke-width="1.3"/>
<path d="M308 302.6 L307.83 293.21 L310.78 296.4 L315.13 296.48 Z" fill="#000"/>
<text x="321.85" y="278.2" font-size="9.54" font-weight="normal" font-style="italic" fill="#262626" stroke="#262626" stroke-width="0.2" textLength="40.7" lengthAdjust="spacingAndGlyphs">p=0.0113</text>
<line x1="260" y1="409.4" x2="271" y2="409.4" stroke="#f15a29" stroke-width="1.6"/>
<text x="275.23" y="412.9" font-size="12.98" font-weight="bold" fill="#000" textLength="70.85" lengthAdjust="spacingAndGlyphs">IL-12Fc NHQ</text>
<line x1="350.7" y1="409.4" x2="361.6" y2="409.4" stroke="#17aa9c" stroke-width="1.6"/>
<text x="365.02" y="412.9" font-size="12.98" font-weight="bold" fill="#000" textLength="64.08" lengthAdjust="spacingAndGlyphs">IL-12Fc WT</text>
<line x1="433.4" y1="409.3" x2="443" y2="409.3" stroke="#000" stroke-width="1.6"/>
<text x="446.82" y="412.9" font-size="12.98" font-weight="bold" fill="#000" textLength="32.7" lengthAdjust="spacingAndGlyphs">rIL-12</text>
<line x1="292.5" y1="507.55" x2="292.5" y2="596.4" stroke="#141414" stroke-width="1.3"/>
<line x1="289.8" y1="507.55" x2="295.5" y2="507.55" stroke="#141414" stroke-width="1.3"/>
<line x1="290.6" y1="596.4" x2="292.5" y2="596.4" stroke="#141414" stroke-width="1.2"/>
<line x1="290.6" y1="578.63" x2="292.5" y2="578.63" stroke="#141414" stroke-width="1.2"/>
<line x1="290.6" y1="560.86" x2="292.5" y2="560.86" stroke="#141414" stroke-width="1.2"/>
<line x1="290.6" y1="543.09" x2="292.5" y2="543.09" stroke="#141414" stroke-width="1.2"/>
<line x1="290.6" y1="525.32" x2="292.5" y2="525.32" stroke="#141414" stroke-width="1.2"/>
<text x="280.82" y="600.7" font-size="12.1" font-weight="bold" fill="#000" textLength="6.24" lengthAdjust="spacingAndGlyphs">0</text>
<text x="280.65" y="582.13" font-size="12.1" font-weight="bold" fill="#000" textLength="6.24" lengthAdjust="spacingAndGlyphs">1</text>
<text x="280.82" y="564.36" font-size="12.1" font-weight="bold" fill="#000" textLength="6.24" lengthAdjust="spacingAndGlyphs">2</text>
<text x="280.77" y="546.59" font-size="12.1" font-weight="bold" fill="#000" textLength="6.24" lengthAdjust="spacingAndGlyphs">3</text>
<text x="280.43" y="528.82" font-size="12.1" font-weight="bold" fill="#000" textLength="6.24" lengthAdjust="spacingAndGlyphs">4</text>
<text x="280.35" y="510.4" font-size="12.1" font-weight="bold" fill="#000" textLength="6.56" lengthAdjust="spacingAndGlyphs">5</text>
<line x1="292.5" y1="477.1" x2="292.5" y2="499.7" stroke="#141414" stroke-width="1.3"/>
<line x1="289.8" y1="499.7" x2="295.5" y2="499.7" stroke="#141414" stroke-width="1.3"/>
<line x1="290.4" y1="481.7" x2="292.5" y2="481.7" stroke="#141414" stroke-width="1.2"/>
<line x1="290.4" y1="490.7" x2="292.5" y2="490.7" stroke="#141414" stroke-width="1.2"/>
<text x="273.99" y="485.6" font-size="11.88" font-weight="bold" fill="#000" textLength="13.14" lengthAdjust="spacingAndGlyphs">25</text>
<text x="274.84" y="495.9" font-size="11.88" font-weight="bold" fill="#000" textLength="12.26" lengthAdjust="spacingAndGlyphs">15</text>
<line x1="292.5" y1="596.4" x2="480" y2="596.4" stroke="#141414" stroke-width="1.3"/>
<line x1="295.2" y1="596.4" x2="295.2" y2="599.9" stroke="#141414" stroke-width="1.2"/>
<text x="291.94" y="609.9" font-size="12.32" font-weight="bold" fill="#000" textLength="6.54" lengthAdjust="spacingAndGlyphs">0</text>
<line x1="321.49" y1="596.4" x2="321.49" y2="599.9" stroke="#141414" stroke-width="1.2"/>
<text x="318.02" y="609.9" font-size="12.32" font-weight="bold" fill="#000" textLength="6.54" lengthAdjust="spacingAndGlyphs">1</text>
<line x1="347.77" y1="596.4" x2="347.77" y2="599.9" stroke="#141414" stroke-width="1.2"/>
<text x="344.54" y="609.9" font-size="12.32" font-weight="bold" fill="#000" textLength="6.54" lengthAdjust="spacingAndGlyphs">2</text>
<line x1="374.06" y1="596.4" x2="374.06" y2="599.9" stroke="#141414" stroke-width="1.2"/>
<text x="370.85" y="609.9" font-size="12.32" font-weight="bold" fill="#000" textLength="6.54" lengthAdjust="spacingAndGlyphs">3</text>
<line x1="400.34" y1="596.4" x2="400.34" y2="599.9" stroke="#141414" stroke-width="1.2"/>
<text x="397.02" y="609.9" font-size="12.32" font-weight="bold" fill="#000" textLength="6.54" lengthAdjust="spacingAndGlyphs">4</text>
<line x1="426.63" y1="596.4" x2="426.63" y2="599.9" stroke="#141414" stroke-width="1.2"/>
<text x="423.34" y="609.9" font-size="12.32" font-weight="bold" fill="#000" textLength="6.54" lengthAdjust="spacingAndGlyphs">5</text>
<line x1="452.91" y1="596.4" x2="452.91" y2="599.9" stroke="#141414" stroke-width="1.2"/>
<text x="449.65" y="609.9" font-size="12.32" font-weight="bold" fill="#000" textLength="6.54" lengthAdjust="spacingAndGlyphs">6</text>
<line x1="479.2" y1="596.4" x2="479.2" y2="599.9" stroke="#141414" stroke-width="1.2"/>
<text x="475.94" y="609.9" font-size="12.32" font-weight="bold" fill="#000" textLength="6.54" lengthAdjust="spacingAndGlyphs">7</text>
<text x="369.69" y="621.5" font-size="12.76" font-weight="bold" fill="#000" textLength="22.76" lengthAdjust="spacingAndGlyphs">Day</text>
<text x="362.23" y="444.5" font-size="12.76" font-weight="bold" fill="#000" textLength="40.56" lengthAdjust="spacingAndGlyphs">plasma</text>
<text x="0" y="0" transform="translate(264.78 607.09) rotate(-90)" font-size="11.95" font-weight="bold" fill="#000" textLength="135.49" lengthAdjust="spacingAndGlyphs">IL-12 (ng/mL of plasma)</text>
<clipPath id="cl"><rect x="280" y="507.5" width="250" height="200"/></clipPath>
<g clip-path="url(#cl)">
<path d="M294.7 590.4 L301.6 490" fill="none" stroke="#000" stroke-width="1.5" stroke-linejoin="round"/>
</g>
<path d="M306.2 506.6 L321.49 554.29 L374.06 582.01 L479.2 595.51" fill="none" stroke="#000" stroke-width="1.5" stroke-linejoin="round"/>
<path d="M301.3 499.8 L302.7 492.4 L304.7 499.8" fill="none" stroke="#000" stroke-width="1.4" stroke-linejoin="round"/>
<path d="M295.2 590.71 L301.77 572.77 L321.49 582.72 L374.06 593.02 L479.2 594.27" fill="none" stroke="#17aa9c" stroke-width="1.5" stroke-linejoin="round"/>
<path d="M295.2 592.49 L301.77 580.58 L321.49 589.83 L374.06 593.73 L479.2 594.98" fill="none" stroke="#f15a29" stroke-width="1.5" stroke-linejoin="round"/>
<line x1="328.3" y1="486.2" x2="310.72" y2="489.06" stroke="#000" stroke-width="1.3"/>
<path d="M304.3 490.1 L312.05 484.79 L311.01 489.01 L313.33 492.68 Z" fill="#000"/>
<line x1="337.7" y1="523.8" x2="326.71" y2="543.99" stroke="#000" stroke-width="1.3"/>
<path d="M323.6 549.7 L324.15 540.32 L326.85 543.73 L331.18 544.15 Z" fill="#000"/>
<line x1="391.9" y1="553.1" x2="380.71" y2="570.53" stroke="#000" stroke-width="1.3"/>
<path d="M377.2 576 L378.43 566.69 L380.87 570.28 L385.16 571.01 Z" fill="#000"/>
<text x="331.84" y="486.8" font-size="9.54" font-weight="normal" font-style="italic" fill="#262626" stroke="#262626" stroke-width="0.2" textLength="40.94" lengthAdjust="spacingAndGlyphs">p=0.0009</text>
<text x="339.3" y="519.7" font-size="9.54" font-weight="normal" font-style="italic" fill="#262626" stroke="#262626" stroke-width="0.2" textLength="40.58" lengthAdjust="spacingAndGlyphs">p&lt;0.0001</text>
<text x="392.24" y="549.1" font-size="9.54" font-weight="normal" font-style="italic" fill="#262626" stroke="#262626" stroke-width="0.2" textLength="40.1" lengthAdjust="spacingAndGlyphs">p=0.0205</text>
<line x1="563" y1="237.6" x2="563" y2="376.9" stroke="#141414" stroke-width="1.3"/>
<line x1="557.2" y1="376.9" x2="563" y2="376.9" stroke="#141414" stroke-width="1.2"/>
<text x="548.16" y="380.7" font-size="11.88" font-weight="bold" fill="#000" textLength="6.31" lengthAdjust="spacingAndGlyphs">0</text>
<line x1="557.2" y1="342.25" x2="563" y2="342.25" stroke="#141414" stroke-width="1.2"/>
<text x="548.16" y="347.1" font-size="11.88" font-weight="bold" fill="#000" textLength="6.31" lengthAdjust="spacingAndGlyphs">2</text>
<line x1="557.2" y1="307.6" x2="563" y2="307.6" stroke="#141414" stroke-width="1.2"/>
<text x="547.76" y="313.3" font-size="11.88" font-weight="bold" fill="#000" textLength="6.31" lengthAdjust="spacingAndGlyphs">4</text>
<line x1="557.2" y1="272.95" x2="563" y2="272.95" stroke="#141414" stroke-width="1.2"/>
<text x="548.1" y="278.3" font-size="11.88" font-weight="bold" fill="#000" textLength="6.31" lengthAdjust="spacingAndGlyphs">6</text>
<line x1="557.2" y1="238.3" x2="563" y2="238.3" stroke="#141414" stroke-width="1.2"/>
<text x="548.05" y="241.9" font-size="11.88" font-weight="bold" fill="#000" textLength="6.31" lengthAdjust="spacingAndGlyphs">8</text>
<line x1="557" y1="376.9" x2="655.5" y2="376.9" stroke="#141414" stroke-width="1.3"/>
<path d="M572.7 376.9 L572.7 301.6 L590.4 301.6 L590.4 376.9" fill="none" stroke="#000" stroke-width="1.5" stroke-linejoin="round"/>
<path d="M600.4 376.9 L600.4 275.8 L617.5 275.8 L617.5 376.9" fill="none" stroke="#17aa9c" stroke-width="1.5" stroke-linejoin="round"/>
<path d="M628.1 376.9 L628.1 263.1 L645.6 263.1 L645.6 376.9" fill="none" stroke="#f15a29" stroke-width="1.5" stroke-linejoin="round"/>
<line x1="581.5" y1="287.4" x2="581.5" y2="314.6" stroke="#141414" stroke-width="1.4"/>
<line x1="576.5" y1="287.4" x2="586.5" y2="287.4" stroke="#141414" stroke-width="1.4"/>
<line x1="576.5" y1="314.6" x2="586.5" y2="314.6" stroke="#141414" stroke-width="1.4"/>
<circle cx="581.5" cy="301.6" r="2.7" fill="#000"/>
<line x1="609.1" y1="254.1" x2="609.1" y2="296.1" stroke="#141414" stroke-width="1.4"/>
<line x1="604.1" y1="254.1" x2="614.1" y2="254.1" stroke="#141414" stroke-width="1.4"/>
<line x1="604.1" y1="296.1" x2="614.1" y2="296.1" stroke="#141414" stroke-width="1.4"/>
<circle cx="609.1" cy="275.8" r="2.7" fill="#17aa9c"/>
<line x1="636.9" y1="238.7" x2="636.9" y2="286.2" stroke="#141414" stroke-width="1.4"/>
<line x1="631.9" y1="238.7" x2="641.9" y2="238.7" stroke="#141414" stroke-width="1.4"/>
<line x1="631.9" y1="286.2" x2="641.9" y2="286.2" stroke="#141414" stroke-width="1.4"/>
<circle cx="636.9" cy="263.1" r="2.7" fill="#f15a29"/>
<line x1="581.2" y1="376.9" x2="581.2" y2="382.5" stroke="#141414" stroke-width="1.2"/>
<line x1="609.1" y1="376.9" x2="609.1" y2="382.5" stroke="#141414" stroke-width="1.2"/>
<line x1="636.9" y1="376.9" x2="636.9" y2="382.5" stroke="#141414" stroke-width="1.2"/>
<text x="571.1" y="393.7" font-size="12.54" font-weight="bold" fill="#000" textLength="33.43" lengthAdjust="spacingAndGlyphs">rIL-12</text>
<text x="606.7" y="393.7" font-size="12.54" font-weight="bold" fill="#000" textLength="18.72" lengthAdjust="spacingAndGlyphs">WT</text>
<text x="629.69" y="393.7" font-size="12.54" font-weight="bold" fill="#000" textLength="27.84" lengthAdjust="spacingAndGlyphs">NHQ</text>
<line x1="605.3" y1="399.3" x2="651" y2="399.3" stroke="#141414" stroke-width="1.3"/>
<text x="607.71" y="414.6" font-size="12.54" font-weight="bold" fill="#000" textLength="42.36" lengthAdjust="spacingAndGlyphs">IL-12Fc</text>
<text x="0" y="0" transform="translate(534.48 349.69) rotate(-90)" font-size="11.95" font-weight="bold" fill="#000" textLength="96.05" lengthAdjust="spacingAndGlyphs">AUC (ng/mg*day)</text>
<text x="589.31" y="234.3" font-size="12.76" font-weight="bold" fill="#000" textLength="29.61" lengthAdjust="spacingAndGlyphs">brain</text>
<line x1="562.8" y1="500.1" x2="562.8" y2="595.8" stroke="#141414" stroke-width="1.3"/>
<line x1="559" y1="500.1" x2="567" y2="500.1" stroke="#141414" stroke-width="1.3"/>
<line x1="557.3" y1="595.8" x2="562.8" y2="595.8" stroke="#141414" stroke-width="1.2"/>
<line x1="557.3" y1="576.66" x2="562.8" y2="576.66" stroke="#141414" stroke-width="1.2"/>
<line x1="557.3" y1="557.52" x2="562.8" y2="557.52" stroke="#141414" stroke-width="1.2"/>
<line x1="557.3" y1="538.38" x2="562.8" y2="538.38" stroke="#141414" stroke-width="1.2"/>
<line x1="557.3" y1="519.24" x2="562.8" y2="519.24" stroke="#141414" stroke-width="1.2"/>
<text x="546.59" y="506" font-size="11.88" font-weight="bold" fill="#000" textLength="6.31" lengthAdjust="spacingAndGlyphs">5</text>
<text x="546.36" y="524.5" font-size="11.88" font-weight="bold" fill="#000" textLength="6.31" lengthAdjust="spacingAndGlyphs">4</text>
<text x="546.7" y="543.5" font-size="11.88" font-weight="bold" fill="#000" textLength="6.31" lengthAdjust="spacingAndGlyphs">3</text>
<text x="546.76" y="561.8" font-size="11.88" font-weight="bold" fill="#000" textLength="6.31" lengthAdjust="spacingAndGlyphs">2</text>
<text x="546.59" y="580.8" font-size="11.88" font-weight="bold" fill="#000" textLength="6.31" lengthAdjust="spacingAndGlyphs">1</text>
<text x="546.76" y="599.1" font-size="11.88" font-weight="bold" fill="#000" textLength="6.31" lengthAdjust="spacingAndGlyphs">0</text>
<line x1="562.8" y1="457.2" x2="562.8" y2="488.2" stroke="#141414" stroke-width="1.3"/>
<line x1="559" y1="488.2" x2="567" y2="488.2" stroke="#141414" stroke-width="1.3"/>
<line x1="556" y1="462.9" x2="562.8" y2="462.9" stroke="#141414" stroke-width="1.2"/>
<line x1="556" y1="475.5" x2="562.8" y2="475.5" stroke="#141414" stroke-width="1.2"/>
<text x="539.38" y="466" font-size="11.88" font-weight="bold" fill="#000" textLength="13.35" lengthAdjust="spacingAndGlyphs">15</text>
<text x="539.37" y="480.4" font-size="11.88" font-weight="bold" fill="#000" textLength="13.55" lengthAdjust="spacingAndGlyphs">10</text>
<text x="546.25" y="493" font-size="11.88" font-weight="bold" fill="#000" textLength="6.45" lengthAdjust="spacingAndGlyphs">5</text>
<line x1="557" y1="595.8" x2="655.9" y2="595.8" stroke="#141414" stroke-width="1.3"/>
<path d="M572.8 488.2 L572.8 474.6 L589.9 474.6 L589.9 488.2" fill="none" stroke="#000" stroke-width="1.5" stroke-linejoin="round"/>
<line x1="572.8" y1="500.1" x2="572.8" y2="595.8" stroke="#000" stroke-width="1.5"/>
<line x1="589.9" y1="500.1" x2="589.9" y2="595.8" stroke="#000" stroke-width="1.5"/>
<line x1="581.5" y1="463.4" x2="581.5" y2="483.8" stroke="#141414" stroke-width="1.4"/>
<line x1="576.5" y1="463.4" x2="586.5" y2="463.4" stroke="#141414" stroke-width="1.4"/>
<line x1="576.5" y1="483.8" x2="586.5" y2="483.8" stroke="#141414" stroke-width="1.4"/>
<circle cx="581.5" cy="474.6" r="2.7" fill="#000"/>
<path d="M600.6 595.8 L600.6 547.1 L617.9 547.1 L617.9 595.8" fill="none" stroke="#17aa9c" stroke-width="1.5" stroke-linejoin="round"/>
<path d="M628.8 595.8 L628.8 572.9 L645.9 572.9 L645.9 595.8" fill="none" stroke="#f15a29" stroke-width="1.5" stroke-linejoin="round"/>
<line x1="609.1" y1="526" x2="609.1" y2="567.2" stroke="#141414" stroke-width="1.4"/>
<line x1="604.1" y1="526" x2="614.1" y2="526" stroke="#141414" stroke-width="1.4"/>
<line x1="604.1" y1="567.2" x2="614.1" y2="567.2" stroke="#141414" stroke-width="1.4"/>
<circle cx="609.1" cy="547.1" r="2.7" fill="#17aa9c"/>
<line x1="637.3" y1="565.5" x2="637.3" y2="579.9" stroke="#141414" stroke-width="1.4"/>
<line x1="632.3" y1="565.5" x2="642.3" y2="565.5" stroke="#141414" stroke-width="1.4"/>
<line x1="632.3" y1="579.9" x2="642.3" y2="579.9" stroke="#141414" stroke-width="1.4"/>
<circle cx="637.3" cy="572.9" r="2.7" fill="#f15a29"/>
<line x1="581.2" y1="595.8" x2="581.2" y2="601.2" stroke="#141414" stroke-width="1.2"/>
<line x1="609.1" y1="595.8" x2="609.1" y2="601.2" stroke="#141414" stroke-width="1.2"/>
<line x1="636.9" y1="595.8" x2="636.9" y2="601.2" stroke="#141414" stroke-width="1.2"/>
<text x="564.18" y="612.6" font-size="12.54" font-weight="bold" fill="#000" textLength="34.37" lengthAdjust="spacingAndGlyphs">rIL-12</text>
<text x="601.6" y="612.6" font-size="12.54" font-weight="bold" fill="#000" textLength="17.41" lengthAdjust="spacingAndGlyphs">WT</text>
<text x="626.2" y="612.6" font-size="12.54" font-weight="bold" fill="#000" textLength="27.32" lengthAdjust="spacingAndGlyphs">NHQ</text>
<line x1="602" y1="617.1" x2="647.8" y2="617.1" stroke="#141414" stroke-width="1.3"/>
<text x="606.42" y="630.3" font-size="12.54" font-weight="bold" fill="#000" textLength="42.05" lengthAdjust="spacingAndGlyphs">IL-12Fc</text>
<text x="0" y="0" transform="translate(533.73 570.99) rotate(-90)" font-size="11.95" font-weight="bold" fill="#000" textLength="96.05" lengthAdjust="spacingAndGlyphs">AUC (ng/mL*day)</text>
<text x="582.82" y="444.9" font-size="12.76" font-weight="bold" fill="#000" textLength="41.58" lengthAdjust="spacingAndGlyphs">plasma</text>
<line x1="581.2" y1="460.9" x2="637.1" y2="460.9" stroke="#141414" stroke-width="1.3"/>
<text x="587.24" y="457.7" font-size="9.54" font-weight="normal" font-style="italic" fill="#262626" stroke="#262626" stroke-width="0.2" textLength="41.09" lengthAdjust="spacingAndGlyphs">p=0.0230</text>
</svg></body></html>
